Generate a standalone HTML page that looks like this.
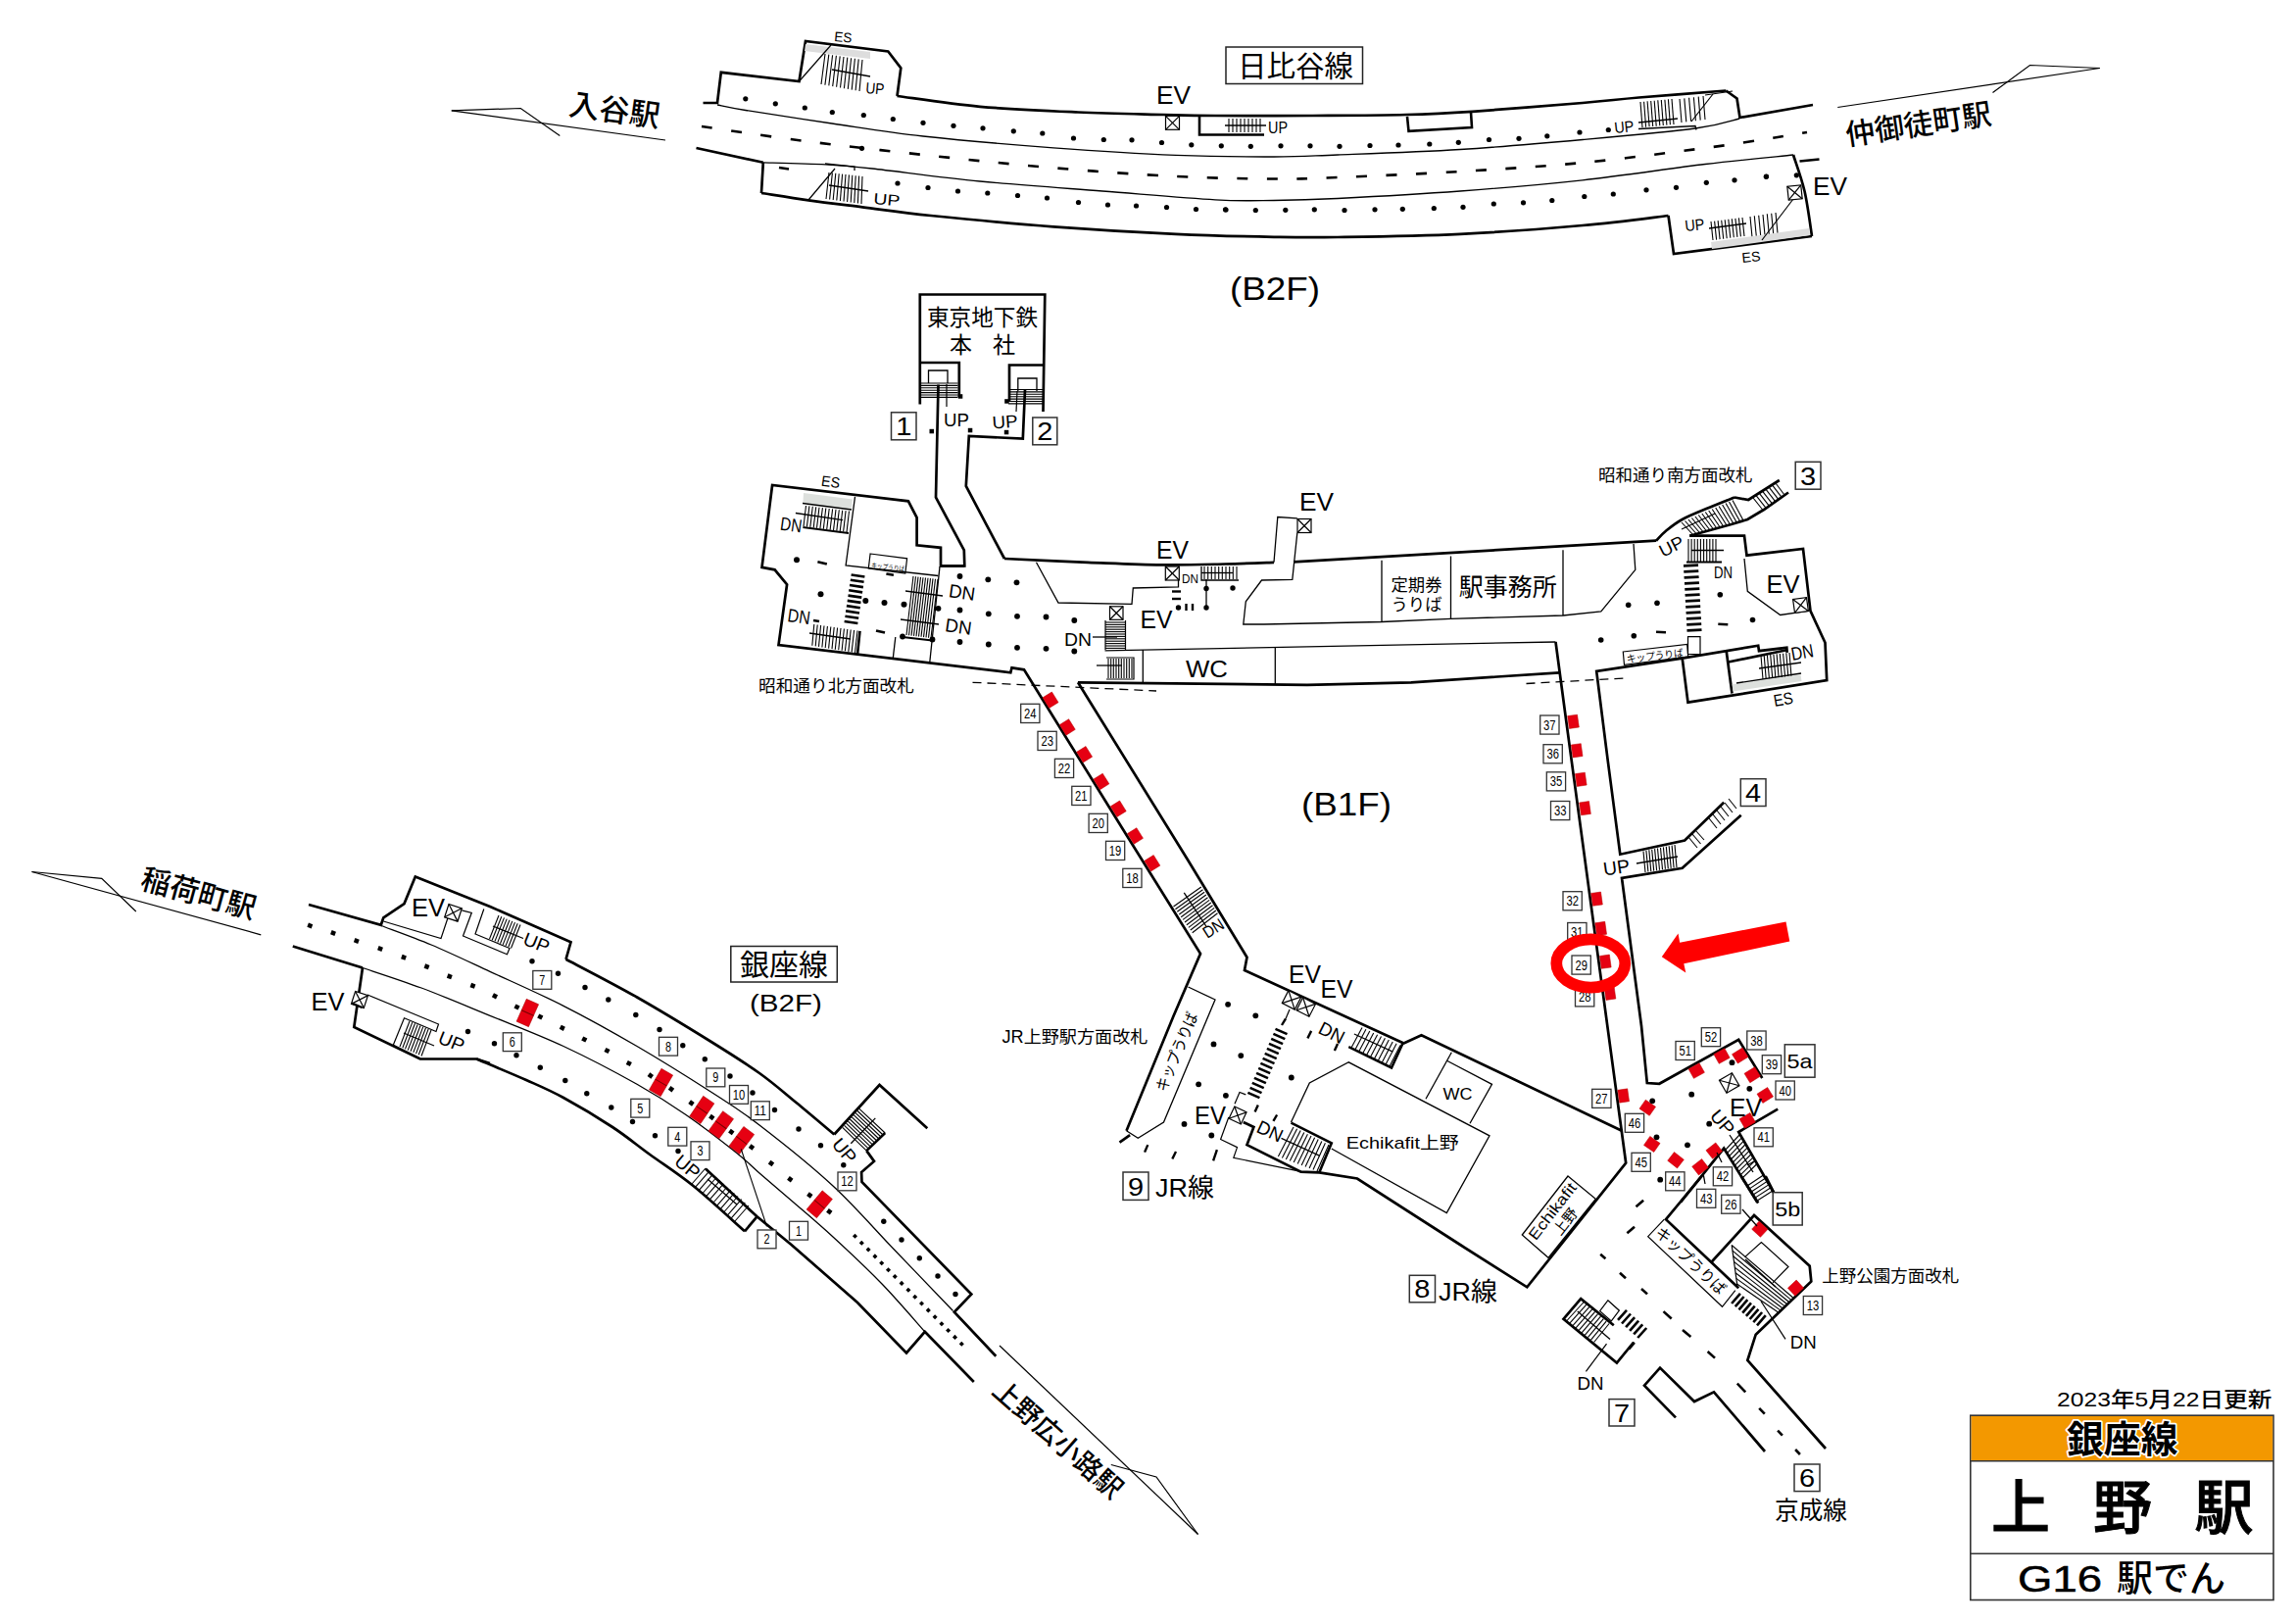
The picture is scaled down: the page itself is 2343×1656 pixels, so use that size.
<!DOCTYPE html>
<html lang="ja"><head><meta charset="utf-8"><title>上野駅 構内図</title>
<style>
html,body{margin:0;padding:0;background:#fff;}
body{width:2343px;height:1656px;overflow:hidden;}
svg{display:block;font-family:"Liberation Sans","Noto Sans CJK JP",sans-serif;fill:#000;}
</style></head><body>
<svg width="2343" height="1656" viewBox="0 0 2343 1656">
<g id="hibiya">
<polyline points="717.5,105.0 732.0,105.0 735.8,73.8 815.5,83.0 822.0,42.0 906.3,52.5 919.3,69.5 915.5,98.0" fill="none" stroke="#000" stroke-width="2.7" stroke-linejoin="miter" />
<path d="M915.5,98.0 C929.6,99.8 969.2,106.0 1000.0,108.8 C1030.8,111.5 1068.8,113.1 1100.0,114.5 C1131.2,115.9 1164.2,116.4 1187.5,117.0 C1210.8,117.6 1214.6,117.8 1240.0,118.0 C1265.4,118.2 1307.5,118.2 1340.0,118.0 C1372.5,117.8 1407.9,117.7 1435.0,117.0 C1462.1,116.3 1472.5,115.8 1502.5,113.8 C1532.5,111.8 1586.7,107.4 1615.0,105.0 C1643.3,102.6 1648.1,101.6 1672.5,99.5 C1696.9,97.4 1746.5,93.7 1761.3,92.5" fill="none" stroke="#000" stroke-width="2.7" />
<polyline points="1761.3,92.5 1772.5,100.5 1775.5,120.0 1850.0,107.0" fill="none" stroke="#000" stroke-width="2.7" stroke-linejoin="miter" />
<path d="M732.0,107.0 C736.8,107.9 741.3,109.3 760.8,112.5 C780.3,115.7 818.8,121.6 849.0,126.0 C879.2,130.4 904.3,134.9 942.0,139.0 C979.7,143.1 1032.0,147.6 1075.0,150.8 C1118.0,154.0 1162.5,156.8 1200.0,158.3 C1237.5,159.8 1272.5,160.1 1300.0,160.0 C1327.5,159.9 1333.3,159.2 1365.0,158.0 C1396.7,156.8 1448.3,155.1 1490.0,152.5 C1531.7,149.9 1575.0,146.1 1615.0,142.5 C1655.0,138.9 1703.3,134.6 1730.0,131.0 C1756.7,127.4 1767.5,122.7 1775.0,121.0" fill="none" stroke="#000" stroke-width="1.3" />
<path d="M716.0,129.0 C733.3,131.5 781.0,138.8 820.0,143.8 C859.0,148.8 907.5,154.2 950.0,158.8 C992.5,163.4 1033.3,167.8 1075.0,171.3 C1116.7,174.8 1162.5,178.1 1200.0,180.0 C1237.5,181.9 1272.5,182.3 1300.0,182.5 C1327.5,182.7 1333.3,182.2 1365.0,181.0 C1396.7,179.8 1448.3,177.5 1490.0,175.0 C1531.7,172.5 1573.3,170.0 1615.0,166.0 C1656.7,162.0 1706.8,155.3 1740.0,151.0 C1773.2,146.7 1796.7,142.7 1814.0,140.0 C1831.3,137.3 1839.0,135.8 1844.0,135.0" fill="none" stroke="#000" stroke-width="2.6" stroke-dasharray="11 19.5"/>
<polyline points="710.5,151.0 778.8,165.8" fill="none" stroke="#000" stroke-width="2.7" stroke-linejoin="miter" />
<path d="M778.8,165.8 C789.4,166.1 824.0,166.8 842.5,167.8 C861.0,168.8 863.8,169.1 890.0,172.0 C916.2,174.9 960.8,181.2 1000.0,185.0 C1039.2,188.8 1085.0,191.9 1125.0,195.0 C1165.0,198.1 1210.8,202.2 1240.0,203.8 C1269.2,205.4 1279.2,204.7 1300.0,204.5 C1320.8,204.3 1333.3,204.1 1365.0,202.5 C1396.7,200.9 1448.3,198.1 1490.0,195.0 C1531.7,191.9 1573.3,188.4 1615.0,183.8 C1656.7,179.2 1704.2,171.8 1740.0,167.5 C1775.8,163.2 1815.0,159.6 1830.0,158.0" fill="none" stroke="#000" stroke-width="1.3" />
<polyline points="778.8,165.8 777.0,197.0" fill="none" stroke="#000" stroke-width="2.7" stroke-linejoin="miter" />
<path d="M777.0,197.0 C785.0,198.2 807.8,201.9 825.0,204.3 C842.2,206.7 859.2,208.7 880.0,211.3 C900.8,213.9 917.5,216.7 950.0,220.0 C982.5,223.3 1033.3,228.2 1075.0,231.3 C1116.7,234.4 1162.5,237.1 1200.0,238.8 C1237.5,240.6 1272.5,241.3 1300.0,241.8 C1327.5,242.3 1333.3,242.5 1365.0,242.0 C1396.7,241.5 1448.3,240.8 1490.0,238.8 C1531.7,236.8 1579.6,233.1 1615.0,230.0 C1650.4,226.9 1687.9,221.7 1702.5,220.0" fill="none" stroke="#000" stroke-width="2.7" />
<polyline points="1702.5,220.0 1708.0,259.0 1849.0,241.0" fill="none" stroke="#000" stroke-width="2.7" stroke-linejoin="miter" />
<path d="M1849.0,241.0 C1847.8,233.3 1844.7,208.8 1841.5,195.0 C1838.3,181.2 1831.9,164.2 1830.0,158.0" fill="none" stroke="#000" stroke-width="2.7" />
<polyline points="1836.5,164.5 1856.5,162.5" fill="none" stroke="#000" stroke-width="2.7" stroke-linejoin="miter" />
<polyline points="1436.0,118.8 1437.5,133.8 1502.0,130.0 1501.0,114.5" fill="none" stroke="#000" stroke-width="2.6" stroke-linejoin="miter" />
<circle cx="760.8" cy="100.8" r="2.6"/>
<circle cx="791.3" cy="105.8" r="2.6"/>
<circle cx="821.3" cy="110.0" r="2.6"/>
<circle cx="849.3" cy="114.5" r="2.6"/>
<circle cx="881.3" cy="117.5" r="2.6"/>
<circle cx="911.3" cy="121.5" r="2.6"/>
<circle cx="942.0" cy="125.3" r="2.6"/>
<circle cx="973.0" cy="128.3" r="2.6"/>
<circle cx="1003.0" cy="130.8" r="2.6"/>
<circle cx="1034.3" cy="133.8" r="2.6"/>
<circle cx="1063.8" cy="136.0" r="2.6"/>
<circle cx="1095.5" cy="141.0" r="2.6"/>
<circle cx="1126.3" cy="142.5" r="2.6"/>
<circle cx="1155.0" cy="142.8" r="2.6"/>
<circle cx="1185.5" cy="145.5" r="2.6"/>
<circle cx="1215.8" cy="147.8" r="2.6"/>
<circle cx="1246.3" cy="148.8" r="2.6"/>
<circle cx="1276.3" cy="149.3" r="2.6"/>
<circle cx="1307.0" cy="148.8" r="2.6"/>
<circle cx="1337.0" cy="148.8" r="2.6"/>
<circle cx="1367.0" cy="149.3" r="2.6"/>
<circle cx="1398.0" cy="148.5" r="2.6"/>
<circle cx="1427.0" cy="148.0" r="2.6"/>
<circle cx="1458.8" cy="147.0" r="2.6"/>
<circle cx="1488.3" cy="145.3" r="2.6"/>
<circle cx="1519.5" cy="142.5" r="2.6"/>
<circle cx="1550.0" cy="141.3" r="2.6"/>
<circle cx="1578.8" cy="138.8" r="2.6"/>
<circle cx="1612.0" cy="135.0" r="2.6"/>
<circle cx="1641.3" cy="132.5" r="2.6"/>
<circle cx="879.5" cy="151.3" r="2.6"/>
<circle cx="916.0" cy="187.0" r="2.6"/>
<circle cx="947.0" cy="191.5" r="2.6"/>
<circle cx="977.5" cy="195.0" r="2.6"/>
<circle cx="1007.8" cy="197.0" r="2.6"/>
<circle cx="1038.5" cy="199.5" r="2.6"/>
<circle cx="1068.5" cy="202.0" r="2.6"/>
<circle cx="1100.5" cy="206.5" r="2.6"/>
<circle cx="1130.5" cy="209.0" r="2.6"/>
<circle cx="1159.5" cy="210.0" r="2.6"/>
<circle cx="1190.5" cy="211.5" r="2.6"/>
<circle cx="1220.5" cy="213.5" r="2.6"/>
<circle cx="1251.0" cy="214.0" r="2.6"/>
<circle cx="1250.5" cy="213.8" r="2.6"/>
<circle cx="1281.3" cy="214.5" r="2.6"/>
<circle cx="1311.8" cy="214.3" r="2.6"/>
<circle cx="1341.3" cy="213.8" r="2.6"/>
<circle cx="1372.0" cy="214.5" r="2.6"/>
<circle cx="1403.0" cy="213.8" r="2.6"/>
<circle cx="1431.3" cy="213.3" r="2.6"/>
<circle cx="1463.3" cy="212.5" r="2.6"/>
<circle cx="1493.0" cy="211.3" r="2.6"/>
<circle cx="1524.3" cy="208.0" r="2.6"/>
<circle cx="1554.5" cy="206.8" r="2.6"/>
<circle cx="1583.8" cy="204.5" r="2.6"/>
<circle cx="1616.8" cy="200.5" r="2.6"/>
<circle cx="1646.3" cy="198.0" r="2.6"/>
<circle cx="1680.0" cy="193.8" r="2.6"/>
<circle cx="1710.5" cy="191.3" r="2.6"/>
<circle cx="1741.3" cy="186.3" r="2.6"/>
<circle cx="1770.0" cy="183.8" r="2.6"/>
<circle cx="1802.5" cy="180.0" r="2.6"/>
<circle cx="1802.3" cy="180.3" r="2.6"/>
<circle cx="1833.3" cy="178.8" r="2.6"/>
<polygon points="822,45 888,53 888,60 821,52" fill="#ddd"/>
<line x1="842.0" y1="55.0" x2="838.0" y2="86.0" stroke="#000" stroke-width="1.1"/>
<line x1="845.8" y1="55.6" x2="841.9" y2="86.7" stroke="#000" stroke-width="1.1"/>
<line x1="849.6" y1="56.2" x2="845.8" y2="87.4" stroke="#000" stroke-width="1.1"/>
<line x1="853.4" y1="56.8" x2="849.7" y2="88.1" stroke="#000" stroke-width="1.1"/>
<line x1="857.2" y1="57.4" x2="853.6" y2="88.8" stroke="#000" stroke-width="1.1"/>
<line x1="861.0" y1="58.0" x2="857.5" y2="89.5" stroke="#000" stroke-width="1.1"/>
<line x1="864.8" y1="58.6" x2="861.4" y2="90.2" stroke="#000" stroke-width="1.1"/>
<line x1="868.6" y1="59.2" x2="865.3" y2="90.9" stroke="#000" stroke-width="1.1"/>
<line x1="872.4" y1="59.8" x2="869.2" y2="91.6" stroke="#000" stroke-width="1.1"/>
<line x1="876.2" y1="60.4" x2="873.1" y2="92.3" stroke="#000" stroke-width="1.1"/>
<line x1="880.0" y1="61.0" x2="877.0" y2="93.0" stroke="#000" stroke-width="1.1"/>
<line x1="815.5" y1="83.0" x2="848.0" y2="46.0" stroke="#000" stroke-width="1.2"/>
<line x1="849.0" y1="71.0" x2="888.0" y2="78.0" stroke="#000" stroke-width="1.3"/>
<text transform="translate(883.0 95.0) rotate(5) scale(0.855 1)" font-size="16" >UP</text>
<text transform="translate(851.0 42.0) rotate(5) scale(0.963 1)" font-size="14" >ES</text>
<line x1="846.0" y1="176.0" x2="843.0" y2="203.0" stroke="#000" stroke-width="1.1"/>
<line x1="849.4" y1="176.4" x2="846.6" y2="203.5" stroke="#000" stroke-width="1.1"/>
<line x1="852.8" y1="176.8" x2="850.2" y2="204.0" stroke="#000" stroke-width="1.1"/>
<line x1="856.2" y1="177.2" x2="853.8" y2="204.5" stroke="#000" stroke-width="1.1"/>
<line x1="859.6" y1="177.6" x2="857.4" y2="205.0" stroke="#000" stroke-width="1.1"/>
<line x1="863.0" y1="178.0" x2="861.0" y2="205.5" stroke="#000" stroke-width="1.1"/>
<line x1="866.4" y1="178.4" x2="864.6" y2="206.0" stroke="#000" stroke-width="1.1"/>
<line x1="869.8" y1="178.8" x2="868.2" y2="206.5" stroke="#000" stroke-width="1.1"/>
<line x1="873.2" y1="179.2" x2="871.8" y2="207.0" stroke="#000" stroke-width="1.1"/>
<line x1="876.6" y1="179.6" x2="875.4" y2="207.5" stroke="#000" stroke-width="1.1"/>
<line x1="880.0" y1="180.0" x2="879.0" y2="208.0" stroke="#000" stroke-width="1.1"/>
<line x1="825.0" y1="204.0" x2="852.0" y2="172.0" stroke="#000" stroke-width="1.2"/>
<line x1="846.0" y1="189.0" x2="886.0" y2="195.0" stroke="#000" stroke-width="1.3"/>
<polyline points="842.0,167.0 872.0,170.0 872.0,174.0" fill="none" stroke="#000" stroke-width="1.3" stroke-linejoin="miter" />
<text transform="translate(891.0 208.0) rotate(5) scale(1.214 1)" font-size="16" >UP</text>
<line x1="795.0" y1="171.0" x2="805.0" y2="172.5" stroke="#000" stroke-width="2.6"/>
<g transform="rotate(0 1196.5 125.3)" stroke="#000" stroke-width="1.2" fill="#fff"><rect x="1189.5" y="118.3" width="14" height="14"/><line x1="1189.5" y1="118.3" x2="1203.5" y2="132.3"/><line x1="1189.5" y1="132.3" x2="1203.5" y2="118.3"/></g>
<text transform="translate(1180.0 106.0) scale(1.009 1)" font-size="26" >EV</text>
<polyline points="1224.0,118.0 1224.0,137.5 1290.0,137.5" fill="none" stroke="#000" stroke-width="2.6" stroke-linejoin="miter" />
<line x1="1254.0" y1="121.0" x2="1254.0" y2="135.0" stroke="#000" stroke-width="1.1"/>
<line x1="1258.0" y1="121.0" x2="1258.0" y2="135.0" stroke="#000" stroke-width="1.1"/>
<line x1="1262.0" y1="121.0" x2="1262.0" y2="135.0" stroke="#000" stroke-width="1.1"/>
<line x1="1266.0" y1="121.0" x2="1266.0" y2="135.0" stroke="#000" stroke-width="1.1"/>
<line x1="1270.0" y1="121.0" x2="1270.0" y2="135.0" stroke="#000" stroke-width="1.1"/>
<line x1="1274.0" y1="121.0" x2="1274.0" y2="135.0" stroke="#000" stroke-width="1.1"/>
<line x1="1278.0" y1="121.0" x2="1278.0" y2="135.0" stroke="#000" stroke-width="1.1"/>
<line x1="1282.0" y1="121.0" x2="1282.0" y2="135.0" stroke="#000" stroke-width="1.1"/>
<line x1="1286.0" y1="121.0" x2="1286.0" y2="135.0" stroke="#000" stroke-width="1.1"/>
<line x1="1250.0" y1="128.0" x2="1292.0" y2="128.0" stroke="#000" stroke-width="1.3"/>
<text transform="translate(1294.0 136.0) scale(0.900 1)" font-size="16" >UP</text>
<line x1="1674.0" y1="104.0" x2="1676.0" y2="130.0" stroke="#000" stroke-width="1.1"/>
<line x1="1677.6" y1="103.7" x2="1679.6" y2="129.7" stroke="#000" stroke-width="1.1"/>
<line x1="1681.1" y1="103.3" x2="1683.1" y2="129.3" stroke="#000" stroke-width="1.1"/>
<line x1="1684.7" y1="103.0" x2="1686.7" y2="129.0" stroke="#000" stroke-width="1.1"/>
<line x1="1688.2" y1="102.7" x2="1690.2" y2="128.7" stroke="#000" stroke-width="1.1"/>
<line x1="1691.8" y1="102.3" x2="1693.8" y2="128.3" stroke="#000" stroke-width="1.1"/>
<line x1="1695.3" y1="102.0" x2="1697.3" y2="128.0" stroke="#000" stroke-width="1.1"/>
<line x1="1698.9" y1="101.7" x2="1700.9" y2="127.7" stroke="#000" stroke-width="1.1"/>
<line x1="1702.4" y1="101.3" x2="1704.4" y2="127.3" stroke="#000" stroke-width="1.1"/>
<line x1="1706.0" y1="101.0" x2="1708.0" y2="127.0" stroke="#000" stroke-width="1.1"/>
<line x1="1714.0" y1="101.0" x2="1716.0" y2="125.0" stroke="#000" stroke-width="1.1"/>
<line x1="1718.8" y1="100.4" x2="1720.8" y2="124.4" stroke="#000" stroke-width="1.1"/>
<line x1="1723.6" y1="99.8" x2="1725.6" y2="123.8" stroke="#000" stroke-width="1.1"/>
<line x1="1728.4" y1="99.2" x2="1730.4" y2="123.2" stroke="#000" stroke-width="1.1"/>
<line x1="1733.2" y1="98.6" x2="1735.2" y2="122.6" stroke="#000" stroke-width="1.1"/>
<line x1="1738.0" y1="98.0" x2="1740.0" y2="122.0" stroke="#000" stroke-width="1.1"/>
<line x1="1740.0" y1="97.0" x2="1768.0" y2="93.0" stroke="#000" stroke-width="1.2"/>
<line x1="1726.0" y1="124.0" x2="1748.0" y2="96.0" stroke="#000" stroke-width="1.2"/>
<polyline points="1672.0,131.5 1730.0,128.5 1731.0,132.5" fill="none" stroke="#000" stroke-width="1.3" stroke-linejoin="miter" />
<line x1="1672.0" y1="125.0" x2="1712.0" y2="121.0" stroke="#000" stroke-width="1.3"/>
<text transform="translate(1648.0 136.0) rotate(-6) scale(0.900 1)" font-size="16" >UP</text>
<line x1="1746.0" y1="226.0" x2="1748.0" y2="245.0" stroke="#000" stroke-width="1.1"/>
<line x1="1749.6" y1="225.6" x2="1751.6" y2="244.6" stroke="#000" stroke-width="1.1"/>
<line x1="1753.1" y1="225.1" x2="1755.1" y2="244.1" stroke="#000" stroke-width="1.1"/>
<line x1="1756.7" y1="224.7" x2="1758.7" y2="243.7" stroke="#000" stroke-width="1.1"/>
<line x1="1760.2" y1="224.2" x2="1762.2" y2="243.2" stroke="#000" stroke-width="1.1"/>
<line x1="1763.8" y1="223.8" x2="1765.8" y2="242.8" stroke="#000" stroke-width="1.1"/>
<line x1="1767.3" y1="223.3" x2="1769.3" y2="242.3" stroke="#000" stroke-width="1.1"/>
<line x1="1770.9" y1="222.9" x2="1772.9" y2="241.9" stroke="#000" stroke-width="1.1"/>
<line x1="1774.4" y1="222.4" x2="1776.4" y2="241.4" stroke="#000" stroke-width="1.1"/>
<line x1="1778.0" y1="222.0" x2="1780.0" y2="241.0" stroke="#000" stroke-width="1.1"/>
<line x1="1786.0" y1="221.0" x2="1788.0" y2="242.0" stroke="#000" stroke-width="1.1"/>
<line x1="1790.3" y1="220.3" x2="1792.3" y2="241.3" stroke="#000" stroke-width="1.1"/>
<line x1="1794.7" y1="219.7" x2="1796.7" y2="240.7" stroke="#000" stroke-width="1.1"/>
<line x1="1799.0" y1="219.0" x2="1801.0" y2="240.0" stroke="#000" stroke-width="1.1"/>
<line x1="1803.3" y1="218.3" x2="1805.3" y2="239.3" stroke="#000" stroke-width="1.1"/>
<line x1="1807.7" y1="217.7" x2="1809.7" y2="238.7" stroke="#000" stroke-width="1.1"/>
<line x1="1812.0" y1="217.0" x2="1814.0" y2="238.0" stroke="#000" stroke-width="1.1"/>
<polygon points="1746,247 1846,233 1847,240 1747,254" fill="#ddd"/>
<line x1="1744.0" y1="233.0" x2="1782.0" y2="228.0" stroke="#000" stroke-width="1.3"/>
<line x1="1798.0" y1="245.0" x2="1830.0" y2="203.0" stroke="#000" stroke-width="1.2"/>
<text transform="translate(1720.0 236.0) rotate(-6) scale(0.900 1)" font-size="16" >UP</text>
<g transform="rotate(-6 1831.5 196.5)" stroke="#000" stroke-width="1.2" fill="#fff"><rect x="1824.5" y="189.5" width="14" height="14"/><line x1="1824.5" y1="189.5" x2="1838.5" y2="203.5"/><line x1="1824.5" y1="203.5" x2="1838.5" y2="189.5"/></g>
<text transform="translate(1850.0 199.0) scale(1.009 1)" font-size="26" >EV</text>
<text transform="translate(1778.0 268.0) rotate(-6) scale(1.017 1)" font-size="14" >ES</text>
<rect x="1251" y="48" width="139.5" height="37.5" fill="#fff" stroke="#222" stroke-width="1.5"/>
<text transform="translate(1263.0 78.0)" font-size="29.5" >日比谷線</text>
<text transform="translate(1255.0 306.0) scale(1.115 1)" font-size="33" >(B2F)</text>
<polyline points="460.8,112.9 679.0,143.0" fill="none" stroke="#000" stroke-width="1.2" stroke-linejoin="miter" />
<polyline points="460.8,112.9 531.3,110.5 571.3,138.4" fill="none" stroke="#000" stroke-width="1.2" stroke-linejoin="miter" />
<text transform="translate(579.5 117.0) rotate(7.9)" font-size="31" font-weight="500" >入谷駅</text>
<polyline points="1875.3,109.5 2142.8,69.5" fill="none" stroke="#000" stroke-width="1.2" stroke-linejoin="miter" />
<polyline points="2142.8,69.5 2071.5,66.5 2033.5,94.5" fill="none" stroke="#000" stroke-width="1.2" stroke-linejoin="miter" />
<text transform="translate(1885.0 148.5) rotate(-8.5)" font-size="30" font-weight="500" >仲御徒町駅</text>
</g>
<g id="b1f_north">
<polyline points="938.8,412.5 938.8,300.5 1066.3,300.5 1064.5,420.0" fill="none" stroke="#000" stroke-width="2.7" stroke-linejoin="miter" />
<polyline points="938.8,370.0 978.8,370.0 978.8,405.0" fill="none" stroke="#000" stroke-width="2.7" stroke-linejoin="miter" />
<polyline points="1066.0,372.5 1030.0,372.5 1030.0,410.0" fill="none" stroke="#000" stroke-width="2.7" stroke-linejoin="miter" />
<text transform="translate(946.0 332.0) scale(0.983 1)" font-size="23" >東京地下鉄</text>
<text transform="translate(969.0 360.0)" font-size="23" >本</text>
<text transform="translate(1013.0 360.0)" font-size="23" >社</text>
<polyline points="947.5,391.0 947.5,378.0 967.0,378.0 967.0,391.0" fill="none" stroke="#000" stroke-width="1.3" stroke-linejoin="miter" />
<line x1="940.0" y1="391.0" x2="977.5" y2="391.0" stroke="#000" stroke-width="1.1"/>
<line x1="940.0" y1="393.4" x2="977.5" y2="393.4" stroke="#000" stroke-width="1.1"/>
<line x1="940.0" y1="395.8" x2="977.5" y2="395.8" stroke="#000" stroke-width="1.1"/>
<line x1="940.0" y1="398.2" x2="977.5" y2="398.2" stroke="#000" stroke-width="1.1"/>
<line x1="940.0" y1="400.6" x2="977.5" y2="400.6" stroke="#000" stroke-width="1.1"/>
<line x1="940.0" y1="403.0" x2="977.5" y2="403.0" stroke="#000" stroke-width="1.1"/>
<line x1="940.0" y1="405.4" x2="977.5" y2="405.4" stroke="#000" stroke-width="1.1"/>
<polyline points="1038.8,399.0 1038.8,386.0 1058.0,386.0 1058.0,399.0" fill="none" stroke="#000" stroke-width="1.3" stroke-linejoin="miter" />
<line x1="1029.0" y1="397.5" x2="1064.5" y2="397.5" stroke="#000" stroke-width="1.1"/>
<line x1="1029.0" y1="399.9" x2="1064.5" y2="399.9" stroke="#000" stroke-width="1.1"/>
<line x1="1029.0" y1="402.3" x2="1064.5" y2="402.3" stroke="#000" stroke-width="1.1"/>
<line x1="1029.0" y1="404.7" x2="1064.5" y2="404.7" stroke="#000" stroke-width="1.1"/>
<line x1="1029.0" y1="407.1" x2="1064.5" y2="407.1" stroke="#000" stroke-width="1.1"/>
<line x1="1029.0" y1="409.5" x2="1064.5" y2="409.5" stroke="#000" stroke-width="1.1"/>
<line x1="1029.0" y1="411.9" x2="1064.5" y2="411.9" stroke="#000" stroke-width="1.1"/>
<line x1="966.0" y1="392.0" x2="966.0" y2="415.0" stroke="#000" stroke-width="1.2"/>
<line x1="1038.0" y1="399.0" x2="1037.0" y2="420.0" stroke="#000" stroke-width="1.2"/>
<rect x="948.5" y="437.8" width="4.5" height="4.5" transform="rotate(0 950.8 440.0)"/>
<rect x="987.8" y="436.8" width="4.5" height="4.5" transform="rotate(0 990.0 439.0)"/>
<rect x="1024.8" y="438.8" width="4.5" height="4.5" transform="rotate(0 1027.0 441.0)"/>
<rect x="977.8" y="402.2" width="4.5" height="4.5" transform="rotate(0 980.0 404.5)"/>
<rect x="1025.2" y="407.2" width="4.5" height="4.5" transform="rotate(0 1027.5 409.5)"/>
<text transform="translate(963.0 434.5) scale(1.039 1)" font-size="18" >UP</text>
<text transform="translate(1013.0 437.5) rotate(-4) scale(1.039 1)" font-size="18" >UP</text>
<rect x="909.5" y="420.8" width="25.5" height="28.0" fill="#fff" stroke="#333" stroke-width="1.5"/>
<text transform="translate(914.2 444.2) scale(1.114 1)" font-size="26" >1</text>
<rect x="1053.8" y="426.0" width="25.0" height="27.8" fill="#fff" stroke="#333" stroke-width="1.5"/>
<text transform="translate(1058.2 449.3) scale(1.114 1)" font-size="26" >2</text>
<polyline points="957.5,392.5 955.0,507.5 983.8,561.3 984.3,577.5 960.0,577.5" fill="none" stroke="#000" stroke-width="2.7" stroke-linejoin="miter" />
<polyline points="1046.0,397.5 1043.8,447.5 988.8,445.0 985.8,496.0 1025.0,570.0" fill="none" stroke="#000" stroke-width="2.7" stroke-linejoin="miter" />
<path d="M1025.0,570.0 C1039.2,570.6 1083.3,572.8 1110.0,573.8 C1136.7,574.8 1161.7,576.0 1185.0,576.3 C1208.3,576.6 1230.8,575.9 1250.0,575.5 C1269.2,575.1 1291.7,574.1 1300.0,573.8" fill="none" stroke="#000" stroke-width="2.7" />
<polyline points="1300.0,573.8 1303.8,527.5 1323.8,528.8" fill="none" stroke="#000" stroke-width="1.3" stroke-linejoin="miter" />
<g transform="rotate(0 1331.0 536.5)" stroke="#000" stroke-width="1.2" fill="#fff"><rect x="1324.0" y="529.5" width="14" height="14"/><line x1="1324.0" y1="529.5" x2="1338.0" y2="543.5"/><line x1="1324.0" y1="543.5" x2="1338.0" y2="529.5"/></g>
<text transform="translate(1326.0 521.0) scale(1.009 1)" font-size="26" >EV</text>
<polyline points="1323.8,543.8 1318.8,591.3 1287.5,592.0 1271.3,613.8 1268.8,637.0 1290.0,637.0 1410.0,634.5 1480.5,631.3 1595.0,628.0 1633.8,623.8 1668.8,581.3 1667.0,555.0" fill="none" stroke="#000" stroke-width="1.3" stroke-linejoin="miter" />
<polyline points="1320.0,573.3 1690.0,551.7" fill="none" stroke="#000" stroke-width="2.7" stroke-linejoin="miter" />
<polyline points="984.3,577.5 960.0,577.5 960.0,558.8 935.6,556.3 935.6,528.1 926.9,511.3 788.1,495.0 777.5,578.8 790.6,581.3 803.1,596.3 794.5,658.0 1031.3,686.3 1032.5,681.3 1045.0,683.3 1148.3,850.0 1225.0,973.0 1197.5,1036.7 1149.5,1153.8" fill="none" stroke="#000" stroke-width="2.7" stroke-linejoin="miter" />
<polyline points="872.5,506.9 863.1,576.9 957.5,587.5" fill="none" stroke="#000" stroke-width="1.3" stroke-linejoin="miter" />
<polyline points="959.0,578.0 948.8,675.5" fill="none" stroke="#000" stroke-width="1.3" stroke-linejoin="miter" />
<polygon points="888.1,565.0 925.6,569.8 923.8,585.0 886.3,580.0" fill="none" stroke="#000" stroke-width="1.2" stroke-linejoin="miter" fill="#fff"/>
<text transform="translate(889.0 579.3) rotate(7.2) scale(0.756 1)" font-size="7.5" >キップうりば</text>
<line x1="904.4" y1="585.5" x2="911.9" y2="586.8" stroke="#000" stroke-width="2.6"/>
<polygon points="820,503.1 870,509.4 868.8,520 819.4,513.1" fill="#dde0dd"/>
<line x1="822.5" y1="516.0" x2="820.0" y2="537.0" stroke="#000" stroke-width="1.1"/>
<line x1="825.9" y1="516.4" x2="823.4" y2="537.5" stroke="#000" stroke-width="1.1"/>
<line x1="829.3" y1="516.8" x2="826.8" y2="537.9" stroke="#000" stroke-width="1.1"/>
<line x1="832.7" y1="517.3" x2="830.2" y2="538.4" stroke="#000" stroke-width="1.1"/>
<line x1="836.0" y1="517.7" x2="833.5" y2="538.8" stroke="#000" stroke-width="1.1"/>
<line x1="839.4" y1="518.1" x2="836.9" y2="539.3" stroke="#000" stroke-width="1.1"/>
<line x1="842.8" y1="518.5" x2="840.3" y2="539.8" stroke="#000" stroke-width="1.1"/>
<line x1="846.2" y1="519.0" x2="843.7" y2="540.2" stroke="#000" stroke-width="1.1"/>
<line x1="849.6" y1="519.4" x2="847.1" y2="540.7" stroke="#000" stroke-width="1.1"/>
<line x1="853.0" y1="519.8" x2="850.5" y2="541.2" stroke="#000" stroke-width="1.1"/>
<line x1="856.3" y1="520.2" x2="853.8" y2="541.6" stroke="#000" stroke-width="1.1"/>
<line x1="859.7" y1="520.7" x2="857.2" y2="542.1" stroke="#000" stroke-width="1.1"/>
<line x1="863.1" y1="521.1" x2="860.6" y2="542.5" stroke="#000" stroke-width="1.1"/>
<line x1="866.5" y1="521.5" x2="864.0" y2="543.0" stroke="#000" stroke-width="1.1"/>
<polyline points="819.0,513.5 869.0,520.0" fill="none" stroke="#000" stroke-width="1.6" stroke-linejoin="miter" />
<polyline points="819.4,538.0 866.0,544.0" fill="none" stroke="#000" stroke-width="2.2" stroke-linejoin="miter" />
<line x1="811.9" y1="523.5" x2="860.0" y2="530.6" stroke="#000" stroke-width="1.3"/>
<text transform="translate(795.5 540.5) rotate(8) scale(0.801 1)" font-size="19" >DN</text>
<text transform="translate(837.5 495.5) rotate(8) scale(0.949 1)" font-size="15" >ES</text>
<line x1="830.8" y1="637.0" x2="828.8" y2="658.8" stroke="#000" stroke-width="1.1"/>
<line x1="834.2" y1="637.5" x2="832.2" y2="659.4" stroke="#000" stroke-width="1.1"/>
<line x1="837.6" y1="638.0" x2="835.5" y2="659.9" stroke="#000" stroke-width="1.1"/>
<line x1="841.0" y1="638.5" x2="838.9" y2="660.5" stroke="#000" stroke-width="1.1"/>
<line x1="844.4" y1="639.0" x2="842.2" y2="661.0" stroke="#000" stroke-width="1.1"/>
<line x1="847.8" y1="639.5" x2="845.6" y2="661.6" stroke="#000" stroke-width="1.1"/>
<line x1="851.2" y1="640.0" x2="849.0" y2="662.1" stroke="#000" stroke-width="1.1"/>
<line x1="854.6" y1="640.5" x2="852.3" y2="662.7" stroke="#000" stroke-width="1.1"/>
<line x1="858.0" y1="641.0" x2="855.7" y2="663.2" stroke="#000" stroke-width="1.1"/>
<line x1="861.4" y1="641.5" x2="859.1" y2="663.8" stroke="#000" stroke-width="1.1"/>
<line x1="864.8" y1="642.0" x2="862.4" y2="664.3" stroke="#000" stroke-width="1.1"/>
<line x1="868.2" y1="642.5" x2="865.8" y2="664.9" stroke="#000" stroke-width="1.1"/>
<line x1="871.6" y1="643.0" x2="869.1" y2="665.4" stroke="#000" stroke-width="1.1"/>
<line x1="875.0" y1="643.5" x2="872.5" y2="666.0" stroke="#000" stroke-width="1.1"/>
<polyline points="877.5,643.8 875.0,668.0" fill="none" stroke="#000" stroke-width="2.6" stroke-linejoin="miter" />
<line x1="826.0" y1="646.0" x2="868.0" y2="652.0" stroke="#000" stroke-width="1.3"/>
<line x1="830.0" y1="633.0" x2="836.0" y2="634.0" stroke="#000" stroke-width="2.6"/>
<text transform="translate(803.0 634.0) rotate(8) scale(0.838 1)" font-size="19" >DN</text>
<line x1="882.4" y1="588.5" x2="868.6" y2="586.5" stroke="#000" stroke-width="2.6"/>
<line x1="881.6" y1="593.8" x2="867.8" y2="591.8" stroke="#000" stroke-width="2.6"/>
<line x1="880.9" y1="599.1" x2="867.0" y2="597.0" stroke="#000" stroke-width="2.6"/>
<line x1="880.1" y1="604.4" x2="866.2" y2="602.3" stroke="#000" stroke-width="2.6"/>
<line x1="879.3" y1="609.6" x2="865.5" y2="607.6" stroke="#000" stroke-width="2.6"/>
<line x1="878.5" y1="614.9" x2="864.7" y2="612.9" stroke="#000" stroke-width="2.6"/>
<line x1="877.8" y1="620.2" x2="863.9" y2="618.1" stroke="#000" stroke-width="2.6"/>
<line x1="877.0" y1="625.5" x2="863.1" y2="623.4" stroke="#000" stroke-width="2.6"/>
<line x1="876.2" y1="630.7" x2="862.4" y2="628.7" stroke="#000" stroke-width="2.6"/>
<line x1="875.4" y1="636.0" x2="861.6" y2="634.0" stroke="#000" stroke-width="2.6"/>
<line x1="932.0" y1="588.0" x2="925.0" y2="648.0" stroke="#000" stroke-width="1.1"/>
<line x1="934.5" y1="588.3" x2="927.5" y2="648.3" stroke="#000" stroke-width="1.1"/>
<line x1="937.0" y1="588.6" x2="930.0" y2="648.6" stroke="#000" stroke-width="1.1"/>
<line x1="939.5" y1="588.9" x2="932.5" y2="648.9" stroke="#000" stroke-width="1.1"/>
<line x1="942.0" y1="589.2" x2="935.0" y2="649.2" stroke="#000" stroke-width="1.1"/>
<line x1="944.5" y1="589.5" x2="937.5" y2="649.5" stroke="#000" stroke-width="1.1"/>
<line x1="947.0" y1="589.8" x2="940.0" y2="649.8" stroke="#000" stroke-width="1.1"/>
<line x1="949.5" y1="590.1" x2="942.5" y2="650.1" stroke="#000" stroke-width="1.1"/>
<line x1="952.0" y1="590.4" x2="945.0" y2="650.4" stroke="#000" stroke-width="1.1"/>
<line x1="954.5" y1="590.7" x2="947.5" y2="650.7" stroke="#000" stroke-width="1.1"/>
<line x1="957.0" y1="591.0" x2="950.0" y2="651.0" stroke="#000" stroke-width="1.1"/>
<line x1="924.0" y1="603.0" x2="962.0" y2="608.0" stroke="#000" stroke-width="1.3"/>
<line x1="919.0" y1="632.0" x2="958.0" y2="637.0" stroke="#000" stroke-width="1.3"/>
<polyline points="921.0,650.0 951.3,653.5" fill="none" stroke="#000" stroke-width="2" stroke-linejoin="miter" />
<text transform="translate(967.5 609.0) rotate(8) scale(0.983 1)" font-size="19" >DN</text>
<text transform="translate(963.8 644.0) rotate(8) scale(0.983 1)" font-size="19" >DN</text>
<polyline points="913.8,650.0 911.3,671.3" fill="none" stroke="#000" stroke-width="1.3" stroke-linejoin="miter" />
<circle cx="813.0" cy="571.3" r="3"/>
<circle cx="837.5" cy="606.3" r="3"/>
<circle cx="883.3" cy="613.0" r="3"/>
<circle cx="902.5" cy="615.0" r="3"/>
<circle cx="922.5" cy="616.8" r="3"/>
<line x1="834.4" y1="573.3" x2="843.8" y2="575.6" stroke="#000" stroke-width="2.6"/>
<line x1="894.0" y1="643.5" x2="903.0" y2="645.5" stroke="#000" stroke-width="2.6"/>
<circle cx="979.5" cy="588.0" r="2.9"/>
<circle cx="1008.3" cy="591.3" r="2.9"/>
<circle cx="1037.5" cy="594.3" r="2.9"/>
<circle cx="957.5" cy="620.8" r="2.9"/>
<circle cx="979.5" cy="622.5" r="2.9"/>
<circle cx="1008.8" cy="626.3" r="2.9"/>
<circle cx="1038.0" cy="628.8" r="2.9"/>
<circle cx="1067.5" cy="629.5" r="2.9"/>
<circle cx="1096.3" cy="633.0" r="2.9"/>
<circle cx="979.5" cy="655.0" r="2.9"/>
<circle cx="1008.8" cy="657.5" r="2.9"/>
<circle cx="1038.0" cy="660.8" r="2.9"/>
<circle cx="1067.5" cy="661.8" r="2.9"/>
<circle cx="1096.3" cy="664.5" r="2.9"/>
<circle cx="921.0" cy="649.5" r="2.9"/>
<circle cx="951.5" cy="652.5" r="2.9"/>
<text transform="translate(774.0 705.5) scale(1.004 1)" font-size="17.6" >昭和通り北方面改札</text>
<polyline points="1057.5,573.8 1080.0,615.0 1155.0,616.3 1156.3,600.0 1202.5,598.8 1202.5,592.0" fill="none" stroke="#000" stroke-width="1.3" stroke-linejoin="miter" />
<g transform="rotate(0 1196.3 585.0)" stroke="#000" stroke-width="1.2" fill="#fff"><rect x="1189.3" y="578.0" width="14" height="14"/><line x1="1189.3" y1="578.0" x2="1203.3" y2="592.0"/><line x1="1189.3" y1="592.0" x2="1203.3" y2="578.0"/></g>
<text transform="translate(1180.0 570.0) scale(0.951 1)" font-size="26" >EV</text>
<line x1="1229.0" y1="578.0" x2="1229.0" y2="591.0" stroke="#000" stroke-width="1.1"/>
<line x1="1232.7" y1="578.0" x2="1232.7" y2="591.0" stroke="#000" stroke-width="1.1"/>
<line x1="1236.3" y1="578.0" x2="1236.3" y2="591.0" stroke="#000" stroke-width="1.1"/>
<line x1="1240.0" y1="578.0" x2="1240.0" y2="591.0" stroke="#000" stroke-width="1.1"/>
<line x1="1243.7" y1="578.0" x2="1243.7" y2="591.0" stroke="#000" stroke-width="1.1"/>
<line x1="1247.3" y1="578.0" x2="1247.3" y2="591.0" stroke="#000" stroke-width="1.1"/>
<line x1="1251.0" y1="578.0" x2="1251.0" y2="591.0" stroke="#000" stroke-width="1.1"/>
<line x1="1254.7" y1="578.0" x2="1254.7" y2="591.0" stroke="#000" stroke-width="1.1"/>
<line x1="1258.3" y1="578.0" x2="1258.3" y2="591.0" stroke="#000" stroke-width="1.1"/>
<line x1="1262.0" y1="578.0" x2="1262.0" y2="591.0" stroke="#000" stroke-width="1.1"/>
<line x1="1226.0" y1="584.5" x2="1258.0" y2="584.5" stroke="#000" stroke-width="1.3"/>
<polyline points="1226.0,578.0 1226.0,592.0 1264.0,592.0" fill="none" stroke="#000" stroke-width="1.3" stroke-linejoin="miter" />
<text transform="translate(1206.0 594.5) scale(0.905 1)" font-size="13" >DN</text>
<line x1="1196.0" y1="603.5" x2="1205.0" y2="603.5" stroke="#000" stroke-width="2.4"/>
<line x1="1196.0" y1="611.0" x2="1205.0" y2="611.0" stroke="#000" stroke-width="2.4"/>
<line x1="1210.5" y1="616.0" x2="1210.5" y2="623.0" stroke="#000" stroke-width="2.4"/>
<line x1="1217.0" y1="616.0" x2="1217.0" y2="623.0" stroke="#000" stroke-width="2.4"/>
<circle cx="1202.5" cy="620.0" r="2.7"/>
<circle cx="1231.0" cy="600.5" r="2.7"/>
<circle cx="1231.0" cy="620.0" r="2.7"/>
<circle cx="1258.0" cy="600.0" r="2.7"/>
<line x1="1231.0" y1="591.0" x2="1231.0" y2="620.0" stroke="#000" stroke-width="1.3"/>
<g transform="rotate(0 1139.3 625.5)" stroke="#000" stroke-width="1.2" fill="#fff"><rect x="1132.5" y="618.8" width="13.5" height="13.5"/><line x1="1132.5" y1="618.8" x2="1146.0" y2="632.2"/><line x1="1132.5" y1="632.2" x2="1146.0" y2="618.8"/></g>
<text transform="translate(1163.5 641.0) scale(0.951 1)" font-size="26" >EV</text>
<line x1="1128.0" y1="635.0" x2="1148.5" y2="635.0" stroke="#000" stroke-width="1.1"/>
<line x1="1128.0" y1="637.4" x2="1148.5" y2="637.4" stroke="#000" stroke-width="1.1"/>
<line x1="1128.0" y1="639.8" x2="1148.5" y2="639.8" stroke="#000" stroke-width="1.1"/>
<line x1="1128.0" y1="642.2" x2="1148.5" y2="642.2" stroke="#000" stroke-width="1.1"/>
<line x1="1128.0" y1="644.6" x2="1148.5" y2="644.6" stroke="#000" stroke-width="1.1"/>
<line x1="1128.0" y1="647.0" x2="1148.5" y2="647.0" stroke="#000" stroke-width="1.1"/>
<line x1="1128.0" y1="649.4" x2="1148.5" y2="649.4" stroke="#000" stroke-width="1.1"/>
<line x1="1128.0" y1="651.8" x2="1148.5" y2="651.8" stroke="#000" stroke-width="1.1"/>
<line x1="1128.0" y1="654.2" x2="1148.5" y2="654.2" stroke="#000" stroke-width="1.1"/>
<line x1="1128.0" y1="656.6" x2="1148.5" y2="656.6" stroke="#000" stroke-width="1.1"/>
<line x1="1128.0" y1="659.0" x2="1148.5" y2="659.0" stroke="#000" stroke-width="1.1"/>
<line x1="1128.0" y1="661.4" x2="1148.5" y2="661.4" stroke="#000" stroke-width="1.1"/>
<polyline points="1128.0,633.0 1128.0,663.0" fill="none" stroke="#000" stroke-width="1.2" stroke-linejoin="miter" />
<polyline points="1148.5,633.0 1148.5,663.0" fill="none" stroke="#000" stroke-width="1.2" stroke-linejoin="miter" />
<line x1="1115.0" y1="650.0" x2="1140.0" y2="650.0" stroke="#000" stroke-width="1.3"/>
<text transform="translate(1086.0 658.5) scale(1.020 1)" font-size="19" >DN</text>
<line x1="1131.0" y1="672.0" x2="1131.0" y2="692.0" stroke="#000" stroke-width="1.1"/>
<line x1="1133.7" y1="672.0" x2="1133.7" y2="692.0" stroke="#000" stroke-width="1.1"/>
<line x1="1136.3" y1="672.0" x2="1136.3" y2="692.0" stroke="#000" stroke-width="1.1"/>
<line x1="1139.0" y1="672.0" x2="1139.0" y2="692.0" stroke="#000" stroke-width="1.1"/>
<line x1="1141.7" y1="672.0" x2="1141.7" y2="692.0" stroke="#000" stroke-width="1.1"/>
<line x1="1144.3" y1="672.0" x2="1144.3" y2="692.0" stroke="#000" stroke-width="1.1"/>
<line x1="1147.0" y1="672.0" x2="1147.0" y2="692.0" stroke="#000" stroke-width="1.1"/>
<line x1="1149.7" y1="672.0" x2="1149.7" y2="692.0" stroke="#000" stroke-width="1.1"/>
<line x1="1152.3" y1="672.0" x2="1152.3" y2="692.0" stroke="#000" stroke-width="1.1"/>
<line x1="1155.0" y1="672.0" x2="1155.0" y2="692.0" stroke="#000" stroke-width="1.1"/>
<polyline points="1129.0,671.0 1157.0,671.0 1157.0,693.0 1129.0,693.0" fill="none" stroke="#000" stroke-width="1.2" stroke-linejoin="miter" />
<line x1="1119.0" y1="679.0" x2="1145.0" y2="679.0" stroke="#000" stroke-width="1.3"/>
<polyline points="1127.5,663.8 1587.5,655.0" fill="none" stroke="#000" stroke-width="1.3" stroke-linejoin="miter" />
<polyline points="1166.3,663.0 1166.3,697.0" fill="none" stroke="#000" stroke-width="1.3" stroke-linejoin="miter" />
<polyline points="1301.3,661.0 1301.3,698.0" fill="none" stroke="#000" stroke-width="1.3" stroke-linejoin="miter" />
<polyline points="1100.0,696.3 1334.0,698.8 1440.0,696.3 1591.3,686.3" fill="none" stroke="#000" stroke-width="2.7" stroke-linejoin="miter" />
<text transform="translate(1210.0 691.0) scale(1.075 1)" font-size="24" >WC</text>
<polyline points="1410.0,571.8 1410.0,634.5" fill="none" stroke="#000" stroke-width="1.3" stroke-linejoin="miter" />
<polyline points="1480.5,567.5 1480.5,631.3" fill="none" stroke="#000" stroke-width="1.3" stroke-linejoin="miter" />
<polyline points="1595.0,561.3 1595.0,628.0" fill="none" stroke="#000" stroke-width="1.3" stroke-linejoin="miter" />
<text transform="translate(1419.5 603.0) scale(0.990 1)" font-size="17.5" >定期券</text>
<text transform="translate(1419.5 622.5) scale(0.990 1)" font-size="17.5" >うりば</text>
<text transform="translate(1488.8 608.0)" font-size="25" >駅事務所</text>
<path d="M992.5,696.3 L1180,705" stroke="#000" stroke-width="1.3" stroke-dasharray="9 6" fill="none"/>
<path d="M1557.5,697.5 L1657.5,692" stroke="#000" stroke-width="1.3" stroke-dasharray="9 6" fill="none"/>
</g>
<g id="b1f_south">
<polyline points="1100.0,696.3 1211.7,876.7 1272.5,976.7 1270.0,990.0 1432.5,1064.5 1450.5,1056.3 1655.0,1153.8" fill="none" stroke="#000" stroke-width="2.7" stroke-linejoin="miter" />
<rect x="1066.5" y="708.0" width="11" height="12.5" fill="#e60012" stroke="#b00" stroke-width="0.5" transform="rotate(-32 1072.0 714.2)"/>
<rect x="1041.7" y="718.3" width="19.2" height="19.2" fill="#fff" stroke="#333" stroke-width="1.3"/>
<text transform="translate(1045.1 732.9) scale(0.802 1)" font-size="14" >24</text>
<rect x="1083.8" y="735.7" width="11" height="12.5" fill="#e60012" stroke="#b00" stroke-width="0.5" transform="rotate(-32 1089.3 742.0)"/>
<rect x="1059.0" y="746.3" width="19.2" height="19.2" fill="#fff" stroke="#333" stroke-width="1.3"/>
<text transform="translate(1062.4 760.9) scale(0.802 1)" font-size="14" >23</text>
<rect x="1101.1" y="763.5" width="11" height="12.5" fill="#e60012" stroke="#b00" stroke-width="0.5" transform="rotate(-32 1106.6 769.7)"/>
<rect x="1076.4" y="774.3" width="19.2" height="19.2" fill="#fff" stroke="#333" stroke-width="1.3"/>
<text transform="translate(1079.8 788.9) scale(0.802 1)" font-size="14" >22</text>
<rect x="1118.4" y="791.2" width="11" height="12.5" fill="#e60012" stroke="#b00" stroke-width="0.5" transform="rotate(-32 1123.9 797.5)"/>
<rect x="1093.8" y="802.3" width="19.2" height="19.2" fill="#fff" stroke="#333" stroke-width="1.3"/>
<text transform="translate(1097.1 816.9) scale(0.802 1)" font-size="14" >21</text>
<rect x="1135.7" y="819.0" width="11" height="12.5" fill="#e60012" stroke="#b00" stroke-width="0.5" transform="rotate(-32 1141.2 825.2)"/>
<rect x="1111.1" y="830.3" width="19.2" height="19.2" fill="#fff" stroke="#333" stroke-width="1.3"/>
<text transform="translate(1114.5 844.9) scale(0.802 1)" font-size="14" >20</text>
<rect x="1153.0" y="846.7" width="11" height="12.5" fill="#e60012" stroke="#b00" stroke-width="0.5" transform="rotate(-32 1158.5 853.0)"/>
<rect x="1128.5" y="858.3" width="19.2" height="19.2" fill="#fff" stroke="#333" stroke-width="1.3"/>
<text transform="translate(1131.8 872.9) scale(0.802 1)" font-size="14" >19</text>
<rect x="1170.3" y="874.5" width="11" height="12.5" fill="#e60012" stroke="#b00" stroke-width="0.5" transform="rotate(-32 1175.8 880.7)"/>
<rect x="1145.8" y="886.3" width="19.2" height="19.2" fill="#fff" stroke="#333" stroke-width="1.3"/>
<text transform="translate(1149.2 900.9) scale(0.802 1)" font-size="14" >18</text>
<line x1="1197.5" y1="925.0" x2="1225.8" y2="905.0" stroke="#000" stroke-width="1.1"/>
<line x1="1199.4" y1="927.7" x2="1227.5" y2="907.7" stroke="#000" stroke-width="1.1"/>
<line x1="1201.3" y1="930.3" x2="1229.1" y2="910.3" stroke="#000" stroke-width="1.1"/>
<line x1="1203.3" y1="933.0" x2="1230.8" y2="913.0" stroke="#000" stroke-width="1.1"/>
<line x1="1205.2" y1="935.7" x2="1232.5" y2="915.7" stroke="#000" stroke-width="1.1"/>
<line x1="1207.1" y1="938.4" x2="1234.2" y2="918.4" stroke="#000" stroke-width="1.1"/>
<line x1="1209.0" y1="941.0" x2="1235.8" y2="921.0" stroke="#000" stroke-width="1.1"/>
<line x1="1210.9" y1="943.7" x2="1237.5" y2="923.7" stroke="#000" stroke-width="1.1"/>
<line x1="1212.9" y1="946.4" x2="1239.2" y2="926.4" stroke="#000" stroke-width="1.1"/>
<line x1="1214.8" y1="949.0" x2="1240.8" y2="929.0" stroke="#000" stroke-width="1.1"/>
<line x1="1216.7" y1="951.7" x2="1242.5" y2="931.7" stroke="#000" stroke-width="1.1"/>
<line x1="1208.3" y1="910.8" x2="1230.8" y2="945.0" stroke="#000" stroke-width="1.3"/>
<text transform="translate(1232.0 958.0) rotate(-32) scale(0.896 1)" font-size="17" >DN</text>
<polyline points="1587.5,655.0 1597.5,730.0 1659.2,1186.7 1558.3,1313.3 1490.0,1270.0 1385.0,1202.5 1346.3,1196.3 1327.5,1195.6 1272.5,1168.1 1279.4,1150.0 1268.8,1145.0" fill="none" stroke="#000" stroke-width="2.7" stroke-linejoin="miter" />
<polyline points="1716.7,671.7 1629.2,685.0 1640.8,776.7 1653.3,871.7 1719.2,857.5 1759.2,818.7" fill="none" stroke="#000" stroke-width="2.7" stroke-linejoin="miter" />
<polyline points="1776.7,831.7 1716.7,885.8 1655.0,895.8 1675.0,1046.7 1680.8,1105.0 1693.3,1105.8 1774.2,1060.8 1798.3,1100.0" fill="none" stroke="#000" stroke-width="2.7" stroke-linejoin="miter" />
<path d="M1690.0,551.7 C1691.7,550.0 1695.5,545.3 1700.0,541.7 C1704.5,538.1 1709.5,533.9 1716.7,530.0 C1723.9,526.1 1734.4,522.0 1743.3,518.3 C1752.2,514.5 1765.5,509.3 1770.0,507.5" fill="none" stroke="#000" stroke-width="2.7" />
<polyline points="1770.0,507.5 1784.2,510.0 1815.8,490.0" fill="none" stroke="#000" stroke-width="2.7" stroke-linejoin="miter" />
<polyline points="1724.2,546.7 1766.7,535.0 1783.3,530.0 1800.0,520.0 1825.0,502.5" fill="none" stroke="#000" stroke-width="2.7" stroke-linejoin="miter" />
<polyline points="1724.2,546.7 1780.0,546.7 1782.5,566.7 1840.0,560.0 1847.5,623.3 1862.5,655.8 1864.2,694.2 1722.5,716.7 1716.7,671.7 1794.2,658.7 1795.0,664.2 1823.3,660.8 1823.7,665.8" fill="none" stroke="#000" stroke-width="2.7" stroke-linejoin="miter" />
<polyline points="1761.7,664.2 1767.5,707.5" fill="none" stroke="#000" stroke-width="2.7" stroke-linejoin="miter" />
<polyline points="1762.5,675.8 1823.3,663.3" fill="none" stroke="#000" stroke-width="2.7" stroke-linejoin="miter" />
<polyline points="1780.0,570.0 1783.3,603.3 1816.7,627.5 1845.0,623.3" fill="none" stroke="#000" stroke-width="1.3" stroke-linejoin="miter" />
<g transform="rotate(-8 1837.5 617.5)" stroke="#000" stroke-width="1.2" fill="#fff"><rect x="1830.5" y="610.5" width="14" height="14"/><line x1="1830.5" y1="610.5" x2="1844.5" y2="624.5"/><line x1="1830.5" y1="624.5" x2="1844.5" y2="610.5"/></g>
<text transform="translate(1802.5 605.0) scale(0.980 1)" font-size="26" >EV</text>
<rect x="1832.2" y="471.3" width="25.8" height="27.9" fill="#fff" stroke="#333" stroke-width="1.5"/>
<text transform="translate(1837.0 494.6) scale(1.114 1)" font-size="26" >3</text>
<text transform="translate(1631.0 491.0)" font-size="17.5" >昭和通り南方面改札</text>
<line x1="1716.0" y1="533.0" x2="1728.0" y2="546.0" stroke="#000" stroke-width="1.1"/>
<line x1="1719.5" y1="531.5" x2="1731.4" y2="545.0" stroke="#000" stroke-width="1.1"/>
<line x1="1722.9" y1="530.0" x2="1734.8" y2="544.0" stroke="#000" stroke-width="1.1"/>
<line x1="1726.4" y1="528.5" x2="1738.2" y2="543.0" stroke="#000" stroke-width="1.1"/>
<line x1="1729.9" y1="527.0" x2="1741.6" y2="542.0" stroke="#000" stroke-width="1.1"/>
<line x1="1733.3" y1="525.5" x2="1745.0" y2="541.0" stroke="#000" stroke-width="1.1"/>
<line x1="1736.8" y1="524.0" x2="1748.4" y2="540.0" stroke="#000" stroke-width="1.1"/>
<line x1="1740.3" y1="522.5" x2="1751.8" y2="539.0" stroke="#000" stroke-width="1.1"/>
<line x1="1743.7" y1="521.0" x2="1755.2" y2="538.0" stroke="#000" stroke-width="1.1"/>
<line x1="1747.2" y1="519.5" x2="1758.6" y2="537.0" stroke="#000" stroke-width="1.1"/>
<line x1="1750.7" y1="518.0" x2="1762.0" y2="536.0" stroke="#000" stroke-width="1.1"/>
<line x1="1754.1" y1="516.5" x2="1765.4" y2="535.0" stroke="#000" stroke-width="1.1"/>
<line x1="1757.6" y1="515.0" x2="1768.8" y2="534.0" stroke="#000" stroke-width="1.1"/>
<line x1="1761.1" y1="513.5" x2="1772.2" y2="533.0" stroke="#000" stroke-width="1.1"/>
<line x1="1764.5" y1="512.0" x2="1775.6" y2="532.0" stroke="#000" stroke-width="1.1"/>
<line x1="1768.0" y1="510.5" x2="1779.0" y2="531.0" stroke="#000" stroke-width="1.1"/>
<line x1="1789.0" y1="508.0" x2="1799.0" y2="520.5" stroke="#000" stroke-width="1.1"/>
<line x1="1792.3" y1="505.9" x2="1802.1" y2="518.3" stroke="#000" stroke-width="1.1"/>
<line x1="1795.6" y1="503.7" x2="1805.3" y2="516.1" stroke="#000" stroke-width="1.1"/>
<line x1="1798.9" y1="501.6" x2="1808.4" y2="513.9" stroke="#000" stroke-width="1.1"/>
<line x1="1802.1" y1="499.4" x2="1811.6" y2="511.6" stroke="#000" stroke-width="1.1"/>
<line x1="1805.4" y1="497.3" x2="1814.7" y2="509.4" stroke="#000" stroke-width="1.1"/>
<line x1="1808.7" y1="495.1" x2="1817.9" y2="507.2" stroke="#000" stroke-width="1.1"/>
<line x1="1812.0" y1="493.0" x2="1821.0" y2="505.0" stroke="#000" stroke-width="1.1"/>
<line x1="1716.0" y1="540.0" x2="1750.0" y2="524.0" stroke="#000" stroke-width="1.3"/>
<line x1="1723.0" y1="550.0" x2="1723.0" y2="573.0" stroke="#000" stroke-width="1.1"/>
<line x1="1726.1" y1="550.0" x2="1726.1" y2="573.0" stroke="#000" stroke-width="1.1"/>
<line x1="1729.2" y1="550.0" x2="1729.2" y2="573.0" stroke="#000" stroke-width="1.1"/>
<line x1="1732.3" y1="550.0" x2="1732.3" y2="573.0" stroke="#000" stroke-width="1.1"/>
<line x1="1735.4" y1="550.0" x2="1735.4" y2="573.0" stroke="#000" stroke-width="1.1"/>
<line x1="1738.6" y1="550.0" x2="1738.6" y2="573.0" stroke="#000" stroke-width="1.1"/>
<line x1="1741.7" y1="550.0" x2="1741.7" y2="573.0" stroke="#000" stroke-width="1.1"/>
<line x1="1744.8" y1="550.0" x2="1744.8" y2="573.0" stroke="#000" stroke-width="1.1"/>
<line x1="1747.9" y1="550.0" x2="1747.9" y2="573.0" stroke="#000" stroke-width="1.1"/>
<line x1="1751.0" y1="550.0" x2="1751.0" y2="573.0" stroke="#000" stroke-width="1.1"/>
<line x1="1721.0" y1="573.5" x2="1757.0" y2="573.5" stroke="#000" stroke-width="2.2"/>
<line x1="1726.0" y1="561.5" x2="1759.0" y2="561.5" stroke="#000" stroke-width="1.3"/>
<text transform="translate(1697.0 569.0) rotate(-27) scale(1.039 1)" font-size="18" >UP</text>
<text transform="translate(1749.0 590.0) scale(0.822 1)" font-size="16" >DN</text>
<line x1="1733.0" y1="576.6" x2="1718.0" y2="577.4" stroke="#000" stroke-width="2.6"/>
<line x1="1733.3" y1="582.6" x2="1718.3" y2="583.4" stroke="#000" stroke-width="2.6"/>
<line x1="1733.6" y1="588.6" x2="1718.6" y2="589.4" stroke="#000" stroke-width="2.6"/>
<line x1="1733.9" y1="594.6" x2="1719.0" y2="595.4" stroke="#000" stroke-width="2.6"/>
<line x1="1734.3" y1="600.6" x2="1719.3" y2="601.4" stroke="#000" stroke-width="2.6"/>
<line x1="1734.6" y1="606.6" x2="1719.6" y2="607.4" stroke="#000" stroke-width="2.6"/>
<line x1="1734.9" y1="612.6" x2="1719.9" y2="613.4" stroke="#000" stroke-width="2.6"/>
<line x1="1735.2" y1="618.6" x2="1720.2" y2="619.4" stroke="#000" stroke-width="2.6"/>
<line x1="1735.5" y1="624.6" x2="1720.6" y2="625.4" stroke="#000" stroke-width="2.6"/>
<line x1="1735.9" y1="630.6" x2="1720.9" y2="631.4" stroke="#000" stroke-width="2.6"/>
<line x1="1736.2" y1="636.6" x2="1721.2" y2="637.4" stroke="#000" stroke-width="2.6"/>
<line x1="1736.5" y1="642.6" x2="1721.5" y2="643.4" stroke="#000" stroke-width="2.6"/>
<circle cx="1661.7" cy="617.2" r="2.8"/>
<circle cx="1691.0" cy="615.3" r="2.8"/>
<circle cx="1755.3" cy="606.7" r="2.8"/>
<circle cx="1788.5" cy="632.5" r="2.8"/>
<circle cx="1633.7" cy="653.0" r="2.8"/>
<circle cx="1667.3" cy="648.7" r="2.8"/>
<line x1="1690.0" y1="644.7" x2="1700.0" y2="645.3" stroke="#000" stroke-width="2.6"/>
<line x1="1753.3" y1="636.8" x2="1763.3" y2="637.2" stroke="#000" stroke-width="2.6"/>
<polygon points="1656.3,665.0 1721.7,657.5 1722.7,670.0 1657.5,678.3" fill="none" stroke="#000" stroke-width="1.2" stroke-linejoin="miter" fill="#fff"/>
<text transform="translate(1660.5 676.3) rotate(-6.5) scale(0.921 1)" font-size="10.5" >キップうりば</text>
<polygon points="1722.5,649.7 1735.0,649.7 1735.0,667.5 1722.5,667.5" fill="none" stroke="#000" stroke-width="1.2" stroke-linejoin="miter" fill="#fff"/>
<line x1="1797.0" y1="669.0" x2="1799.0" y2="693.0" stroke="#000" stroke-width="1.1"/>
<line x1="1800.2" y1="668.7" x2="1802.2" y2="692.7" stroke="#000" stroke-width="1.1"/>
<line x1="1803.4" y1="668.3" x2="1805.4" y2="692.3" stroke="#000" stroke-width="1.1"/>
<line x1="1806.7" y1="668.0" x2="1808.7" y2="692.0" stroke="#000" stroke-width="1.1"/>
<line x1="1809.9" y1="667.7" x2="1811.9" y2="691.7" stroke="#000" stroke-width="1.1"/>
<line x1="1813.1" y1="667.3" x2="1815.1" y2="691.3" stroke="#000" stroke-width="1.1"/>
<line x1="1816.3" y1="667.0" x2="1818.3" y2="691.0" stroke="#000" stroke-width="1.1"/>
<line x1="1819.6" y1="666.7" x2="1821.6" y2="690.7" stroke="#000" stroke-width="1.1"/>
<line x1="1822.8" y1="666.3" x2="1824.8" y2="690.3" stroke="#000" stroke-width="1.1"/>
<line x1="1826.0" y1="666.0" x2="1828.0" y2="690.0" stroke="#000" stroke-width="1.1"/>
<polygon points="1767.5,698.3 1837.5,688.3 1838.5,695 1768.5,705.5" fill="#dde0dd"/>
<line x1="1772.0" y1="697.0" x2="1838.0" y2="687.0" stroke="#000" stroke-width="1.4"/>
<line x1="1795.0" y1="682.0" x2="1838.0" y2="676.0" stroke="#000" stroke-width="1.3"/>
<text transform="translate(1829.0 674.0) rotate(-10) scale(0.838 1)" font-size="19" >DN</text>
<text transform="translate(1811.0 721.0) rotate(-10) scale(0.882 1)" font-size="17" >ES</text>
<rect x="1600.5" y="729.8" width="10" height="13" fill="#e60012" stroke="#b00" stroke-width="0.5" transform="rotate(-8 1605.5 736.3)"/>
<rect x="1604.2" y="759.3" width="10" height="13" fill="#e60012" stroke="#b00" stroke-width="0.5" transform="rotate(-8 1609.2 765.8)"/>
<rect x="1608.3" y="788.8" width="10" height="13" fill="#e60012" stroke="#b00" stroke-width="0.5" transform="rotate(-8 1613.3 795.3)"/>
<rect x="1612.5" y="818.2" width="10" height="13" fill="#e60012" stroke="#b00" stroke-width="0.5" transform="rotate(-8 1617.5 824.7)"/>
<rect x="1624.5" y="910.7" width="10" height="13" fill="#e60012" stroke="#b00" stroke-width="0.5" transform="rotate(-8 1629.5 917.2)"/>
<rect x="1628.7" y="941.0" width="10" height="13" fill="#e60012" stroke="#b00" stroke-width="0.5" transform="rotate(-8 1633.7 947.5)"/>
<rect x="1633.3" y="974.7" width="10" height="13" fill="#e60012" stroke="#b00" stroke-width="0.5" transform="rotate(-8 1638.3 981.2)"/>
<rect x="1638.0" y="1006.8" width="10" height="13" fill="#e60012" stroke="#b00" stroke-width="0.5" transform="rotate(-8 1643.0 1013.3)"/>
<rect x="1651.7" y="1111.5" width="10" height="13" fill="#e60012" stroke="#b00" stroke-width="0.5" transform="rotate(-8 1656.7 1118.0)"/>
<rect x="1571.7" y="730.0" width="19.3" height="19.1" fill="#fff" stroke="#333" stroke-width="1.3"/>
<text transform="translate(1575.1 744.6) scale(0.802 1)" font-size="14" >37</text>
<rect x="1575.0" y="759.7" width="19.3" height="19.1" fill="#fff" stroke="#333" stroke-width="1.3"/>
<text transform="translate(1578.4 774.3) scale(0.802 1)" font-size="14" >36</text>
<rect x="1578.3" y="787.8" width="19.3" height="19.1" fill="#fff" stroke="#333" stroke-width="1.3"/>
<text transform="translate(1581.7 802.4) scale(0.802 1)" font-size="14" >35</text>
<rect x="1582.5" y="817.5" width="19.3" height="19.1" fill="#fff" stroke="#333" stroke-width="1.3"/>
<text transform="translate(1585.9 832.1) scale(0.802 1)" font-size="14" >33</text>
<rect x="1595.0" y="909.7" width="19.3" height="19.1" fill="#fff" stroke="#333" stroke-width="1.3"/>
<text transform="translate(1598.4 924.3) scale(0.802 1)" font-size="14" >32</text>
<rect x="1599.7" y="941.5" width="19.3" height="19.1" fill="#fff" stroke="#333" stroke-width="1.3"/>
<text transform="translate(1603.1 956.1) scale(0.802 1)" font-size="14" >31</text>
<rect x="1604.0" y="975.0" width="19.3" height="19.1" fill="#fff" stroke="#333" stroke-width="1.3"/>
<text transform="translate(1607.4 989.6) scale(0.802 1)" font-size="14" >29</text>
<rect x="1607.5" y="1007.8" width="19.3" height="19.1" fill="#fff" stroke="#333" stroke-width="1.3"/>
<text transform="translate(1610.9 1022.4) scale(0.802 1)" font-size="14" >28</text>
<rect x="1624.7" y="1111.3" width="19.3" height="19.1" fill="#fff" stroke="#333" stroke-width="1.3"/>
<text transform="translate(1628.1 1125.9) scale(0.802 1)" font-size="14" >27</text>
<rect x="1776.3" y="794.7" width="25.7" height="27.8" fill="#fff" stroke="#333" stroke-width="1.5"/>
<text transform="translate(1781.1 818.0) scale(1.114 1)" font-size="26" >4</text>
<line x1="1677.0" y1="868.5" x2="1679.0" y2="890.0" stroke="#000" stroke-width="1.1"/>
<line x1="1679.9" y1="867.9" x2="1681.9" y2="889.5" stroke="#000" stroke-width="1.1"/>
<line x1="1682.8" y1="867.3" x2="1684.8" y2="889.1" stroke="#000" stroke-width="1.1"/>
<line x1="1685.7" y1="866.7" x2="1687.7" y2="888.6" stroke="#000" stroke-width="1.1"/>
<line x1="1688.6" y1="866.1" x2="1690.6" y2="888.2" stroke="#000" stroke-width="1.1"/>
<line x1="1691.5" y1="865.5" x2="1693.5" y2="887.7" stroke="#000" stroke-width="1.1"/>
<line x1="1694.5" y1="865.0" x2="1696.5" y2="887.3" stroke="#000" stroke-width="1.1"/>
<line x1="1697.4" y1="864.4" x2="1699.4" y2="886.8" stroke="#000" stroke-width="1.1"/>
<line x1="1700.3" y1="863.8" x2="1702.3" y2="886.4" stroke="#000" stroke-width="1.1"/>
<line x1="1703.2" y1="863.2" x2="1705.2" y2="885.9" stroke="#000" stroke-width="1.1"/>
<line x1="1706.1" y1="862.6" x2="1708.1" y2="885.5" stroke="#000" stroke-width="1.1"/>
<line x1="1709.0" y1="862.0" x2="1711.0" y2="885.0" stroke="#000" stroke-width="1.1"/>
<line x1="1670.0" y1="881.0" x2="1712.0" y2="874.0" stroke="#000" stroke-width="1.3"/>
<text transform="translate(1637.0 893.5) rotate(-8) scale(1.022 1)" font-size="19" >UP</text>
<line x1="1723.0" y1="854.0" x2="1732.0" y2="865.0" stroke="#000" stroke-width="1.1"/>
<line x1="1726.5" y1="850.5" x2="1735.5" y2="861.0" stroke="#000" stroke-width="1.1"/>
<line x1="1730.0" y1="847.0" x2="1739.0" y2="857.0" stroke="#000" stroke-width="1.1"/>
<line x1="1744.0" y1="835.0" x2="1752.0" y2="845.0" stroke="#000" stroke-width="1.1"/>
<line x1="1748.0" y1="831.0" x2="1756.0" y2="841.0" stroke="#000" stroke-width="1.1"/>
<line x1="1752.0" y1="827.0" x2="1760.0" y2="837.0" stroke="#000" stroke-width="1.1"/>
<line x1="1756.0" y1="823.0" x2="1764.0" y2="833.0" stroke="#000" stroke-width="1.1"/>
<line x1="1760.0" y1="819.0" x2="1768.0" y2="829.0" stroke="#000" stroke-width="1.1"/>
<line x1="1764.0" y1="815.0" x2="1772.0" y2="825.0" stroke="#000" stroke-width="1.1"/>
<ellipse cx="1623.3" cy="983" rx="35" ry="24.6" fill="none" stroke="#ff0000" stroke-width="11.7"/>
<polygon points="1695.8,976.2 1712.5,952.5 1714.2,961.7 1822.5,940.5 1826.3,960.5 1718.3,983.3 1720.3,992.5" fill="#ff0000"/>
<text transform="translate(1328.0 832.0) scale(1.099 1)" font-size="33.5" >(B1F)</text>
<polyline points="1149.5,1153.8 1161.3,1161.3 1187.5,1145.0 1240.0,1020.0 1212.5,1007.0" fill="none" stroke="#000" stroke-width="1.3" stroke-linejoin="miter" />
<polyline points="1153.1,1158.1 1142.5,1165.6" fill="none" stroke="#000" stroke-width="2.7" stroke-linejoin="miter" />
<text transform="translate(1189.5 1115.0) rotate(-67.2) scale(0.896 1)" font-size="16" >キップうりば</text>
<line x1="1168.1" y1="1175.6" x2="1171.3" y2="1168.1" stroke="#000" stroke-width="2.4"/>
<line x1="1196.3" y1="1182.5" x2="1200.0" y2="1175.0" stroke="#000" stroke-width="2.4"/>
<line x1="1238.1" y1="1184.4" x2="1241.9" y2="1173.1" stroke="#000" stroke-width="2.4"/>
<line x1="1280.6" y1="1134.4" x2="1283.8" y2="1127.5" stroke="#000" stroke-width="2.4"/>
<line x1="1299.4" y1="1143.8" x2="1303.1" y2="1137.5" stroke="#000" stroke-width="2.4"/>
<line x1="1334.4" y1="1059.4" x2="1338.1" y2="1051.9" stroke="#000" stroke-width="2.4"/>
<line x1="1361.9" y1="1071.9" x2="1365.0" y2="1065.0" stroke="#000" stroke-width="2.4"/>
<line x1="1308.0" y1="1046.0" x2="1312.0" y2="1039.4" stroke="#000" stroke-width="2.4"/>
<line x1="1312.0" y1="1039.4" x2="1316.0" y2="1030.0" stroke="#000" stroke-width="1.2"/>
<circle cx="1253.1" cy="1024.8" r="2.9"/>
<circle cx="1281.3" cy="1036.3" r="2.9"/>
<circle cx="1238.5" cy="1065.4" r="2.9"/>
<circle cx="1266.3" cy="1077.1" r="2.9"/>
<circle cx="1223.1" cy="1106.3" r="2.9"/>
<circle cx="1250.9" cy="1117.8" r="2.9"/>
<circle cx="1208.5" cy="1146.9" r="2.9"/>
<circle cx="1236.3" cy="1158.5" r="2.9"/>
<circle cx="1317.8" cy="1099.5" r="2.9"/>
<line x1="1313.5" y1="1055.1" x2="1301.5" y2="1049.9" stroke="#000" stroke-width="2.6"/>
<line x1="1311.3" y1="1060.1" x2="1299.4" y2="1054.9" stroke="#000" stroke-width="2.6"/>
<line x1="1309.1" y1="1065.1" x2="1297.2" y2="1059.9" stroke="#000" stroke-width="2.6"/>
<line x1="1307.0" y1="1070.1" x2="1295.0" y2="1064.9" stroke="#000" stroke-width="2.6"/>
<line x1="1304.8" y1="1075.1" x2="1292.9" y2="1069.9" stroke="#000" stroke-width="2.6"/>
<line x1="1302.7" y1="1080.1" x2="1290.7" y2="1074.9" stroke="#000" stroke-width="2.6"/>
<line x1="1300.5" y1="1085.1" x2="1288.6" y2="1079.9" stroke="#000" stroke-width="2.6"/>
<line x1="1298.3" y1="1090.1" x2="1286.4" y2="1084.9" stroke="#000" stroke-width="2.6"/>
<line x1="1296.2" y1="1095.1" x2="1284.2" y2="1089.9" stroke="#000" stroke-width="2.6"/>
<line x1="1294.0" y1="1100.1" x2="1282.1" y2="1094.9" stroke="#000" stroke-width="2.6"/>
<line x1="1291.9" y1="1105.1" x2="1279.9" y2="1099.9" stroke="#000" stroke-width="2.6"/>
<line x1="1289.7" y1="1110.1" x2="1277.8" y2="1104.9" stroke="#000" stroke-width="2.6"/>
<line x1="1287.5" y1="1115.1" x2="1275.6" y2="1109.9" stroke="#000" stroke-width="2.6"/>
<line x1="1285.4" y1="1120.1" x2="1273.4" y2="1114.9" stroke="#000" stroke-width="2.6"/>
<g transform="rotate(27 1318.1 1020.4)" stroke="#000" stroke-width="1.2" fill="#fff"><rect x="1310.8" y="1013.1" width="14.5" height="14.5"/><line x1="1310.8" y1="1013.1" x2="1325.3" y2="1027.7"/><line x1="1310.8" y1="1027.7" x2="1325.3" y2="1013.1"/></g>
<g transform="rotate(27 1332.8 1027.6)" stroke="#000" stroke-width="1.2" fill="#fff"><rect x="1325.5" y="1020.3" width="14.5" height="14.5"/><line x1="1325.5" y1="1020.3" x2="1340.0" y2="1034.8"/><line x1="1325.5" y1="1034.8" x2="1340.0" y2="1020.3"/></g>
<text transform="translate(1315.0 1002.5) scale(0.951 1)" font-size="26" >EV</text>
<text transform="translate(1347.5 1017.5) scale(0.951 1)" font-size="26" >EV</text>
<g transform="rotate(25 1263.1 1138.1)" stroke="#000" stroke-width="1.2" fill="#fff"><rect x="1256.3" y="1131.3" width="13.5" height="13.5"/><line x1="1256.3" y1="1131.3" x2="1269.8" y2="1144.8"/><line x1="1256.3" y1="1144.8" x2="1269.8" y2="1131.3"/></g>
<text transform="translate(1219.0 1147.0) scale(0.923 1)" font-size="26" >EV</text>
<polyline points="1271.3,1116.9 1265.0,1114.4 1260.0,1126.3" fill="none" stroke="#000" stroke-width="1.2" stroke-linejoin="miter" />
<polyline points="1253.8,1140.0 1245.6,1162.5 1262.5,1170.6 1258.8,1181.3 1328.8,1195.6" fill="none" stroke="#000" stroke-width="1.2" stroke-linejoin="miter" />
<polyline points="1376.3,1068.1 1420.0,1089.4 1431.3,1065.0" fill="none" stroke="#000" stroke-width="2.6" stroke-linejoin="miter" />
<line x1="1390.0" y1="1048.5" x2="1379.0" y2="1069.0" stroke="#000" stroke-width="1.1"/>
<line x1="1393.9" y1="1050.3" x2="1382.9" y2="1070.9" stroke="#000" stroke-width="1.1"/>
<line x1="1397.8" y1="1052.1" x2="1386.8" y2="1072.8" stroke="#000" stroke-width="1.1"/>
<line x1="1401.7" y1="1053.9" x2="1390.7" y2="1074.7" stroke="#000" stroke-width="1.1"/>
<line x1="1405.6" y1="1055.7" x2="1394.6" y2="1076.6" stroke="#000" stroke-width="1.1"/>
<line x1="1409.5" y1="1057.5" x2="1398.5" y2="1078.5" stroke="#000" stroke-width="1.1"/>
<line x1="1413.4" y1="1059.3" x2="1402.4" y2="1080.4" stroke="#000" stroke-width="1.1"/>
<line x1="1417.3" y1="1061.1" x2="1406.3" y2="1082.3" stroke="#000" stroke-width="1.1"/>
<line x1="1421.2" y1="1062.9" x2="1410.2" y2="1084.2" stroke="#000" stroke-width="1.1"/>
<line x1="1425.1" y1="1064.7" x2="1414.1" y2="1086.1" stroke="#000" stroke-width="1.1"/>
<line x1="1429.0" y1="1066.5" x2="1418.0" y2="1088.0" stroke="#000" stroke-width="1.1"/>
<line x1="1381.9" y1="1055.0" x2="1421.3" y2="1073.1" stroke="#000" stroke-width="1.3"/>
<text transform="translate(1344.0 1053.5) rotate(27) scale(0.983 1)" font-size="19" >DN</text>
<polyline points="1317.5,1145.6 1358.8,1166.3 1346.3,1196.3" fill="none" stroke="#000" stroke-width="2.6" stroke-linejoin="miter" />
<line x1="1320.0" y1="1150.0" x2="1304.4" y2="1180.0" stroke="#000" stroke-width="1.1"/>
<line x1="1323.6" y1="1151.8" x2="1308.4" y2="1181.5" stroke="#000" stroke-width="1.1"/>
<line x1="1327.2" y1="1153.6" x2="1312.3" y2="1183.0" stroke="#000" stroke-width="1.1"/>
<line x1="1330.8" y1="1155.4" x2="1316.3" y2="1184.5" stroke="#000" stroke-width="1.1"/>
<line x1="1334.4" y1="1157.2" x2="1320.2" y2="1186.0" stroke="#000" stroke-width="1.1"/>
<line x1="1338.0" y1="1159.0" x2="1324.2" y2="1187.5" stroke="#000" stroke-width="1.1"/>
<line x1="1341.6" y1="1160.8" x2="1328.2" y2="1189.0" stroke="#000" stroke-width="1.1"/>
<line x1="1345.2" y1="1162.6" x2="1332.1" y2="1190.5" stroke="#000" stroke-width="1.1"/>
<line x1="1348.8" y1="1164.4" x2="1336.1" y2="1192.0" stroke="#000" stroke-width="1.1"/>
<line x1="1352.4" y1="1166.2" x2="1340.0" y2="1193.5" stroke="#000" stroke-width="1.1"/>
<line x1="1356.0" y1="1168.0" x2="1344.0" y2="1195.0" stroke="#000" stroke-width="1.1"/>
<line x1="1307.5" y1="1161.3" x2="1346.9" y2="1179.4" stroke="#000" stroke-width="1.3"/>
<text transform="translate(1281.0 1154.5) rotate(25) scale(0.983 1)" font-size="19" >DN</text>
<polyline points="1317.5,1145.0 1336.3,1105.0 1376.3,1083.8 1520.0,1158.8 1476.3,1237.5 1358.8,1172.0" fill="none" stroke="#000" stroke-width="1.3" stroke-linejoin="miter" />
<polyline points="1481.3,1073.8 1455.0,1121.3" fill="none" stroke="#000" stroke-width="1.3" stroke-linejoin="miter" />
<polyline points="1477.0,1082.5 1522.5,1106.3 1500.0,1146.3" fill="none" stroke="#000" stroke-width="1.3" stroke-linejoin="miter" />
<text transform="translate(1472.5 1121.5) scale(1.059 1)" font-size="17" >WC</text>
<text transform="translate(1373.8 1172.0) scale(1.170 1)" font-size="17" >Echikafit上野</text>
<polygon points="1600.0,1200.0 1628.3,1223.3 1580.0,1283.3 1553.3,1260.0" fill="none" stroke="#000" stroke-width="1.3" stroke-linejoin="miter" />
<text transform="translate(1567.2 1266.4) rotate(-52.1) scale(1.178 1)" font-size="15.5" >Echikafit</text>
<text transform="translate(1592.6 1261.5) rotate(-52.1)" font-size="15" >上野</text>
<rect x="1146.0" y="1196.0" width="26.0" height="28.4" fill="#fff" stroke="#333" stroke-width="1.5"/>
<text transform="translate(1150.9 1219.6) scale(1.114 1)" font-size="26" >9</text>
<text transform="translate(1179.0 1221.0) scale(1.038 1)" font-size="26" >JR線</text>
<text transform="translate(1022.5 1063.5) scale(1.036 1)" font-size="17.5" >JR上野駅方面改札</text>
</g>
<g id="b1f_exits">
<polyline points="1814.2,1131.7 1774.2,1155.0 1810.0,1216.7" fill="none" stroke="#000" stroke-width="2.7" stroke-linejoin="miter" />
<polyline points="1715.0,1226.7 1759.2,1171.7 1793.3,1226.7" fill="none" stroke="#000" stroke-width="2.7" stroke-linejoin="miter" />
<polyline points="1736.7,1200.0 1700.0,1244.2 1774.2,1314.2" fill="none" stroke="#000" stroke-width="2.7" stroke-linejoin="miter" />
<polyline points="1746.7,1287.5 1790.0,1240.0 1846.7,1291.7 1848.3,1307.5 1791.7,1361.7 1783.3,1388.0 1863.0,1478.0" fill="none" stroke="#000" stroke-width="2.7" stroke-linejoin="miter" />
<polyline points="1776.7,1200.0 1794.2,1227.5" fill="none" stroke="#000" stroke-width="2.7" stroke-linejoin="miter" />
<polyline points="1801.7,1200.0 1810.0,1216.7" fill="none" stroke="#000" stroke-width="2.7" stroke-linejoin="miter" />
<rect x="1675.0" y="1124.8" width="12.5" height="11" fill="#e60012" stroke="#b00" stroke-width="0.5" transform="rotate(35 1681.3 1130.3)"/>
<rect x="1679.5" y="1162.0" width="12.5" height="11" fill="#e60012" stroke="#b00" stroke-width="0.5" transform="rotate(35 1685.8 1167.5)"/>
<rect x="1703.8" y="1178.2" width="12.5" height="11" fill="#e60012" stroke="#b00" stroke-width="0.5" transform="rotate(38 1710.0 1183.7)"/>
<rect x="1728.8" y="1185.3" width="12.5" height="11" fill="#e60012" stroke="#b00" stroke-width="0.5" transform="rotate(-38 1735.0 1190.8)"/>
<rect x="1743.0" y="1168.7" width="12.5" height="11" fill="#e60012" stroke="#b00" stroke-width="0.5" transform="rotate(-38 1749.2 1174.2)"/>
<rect x="1725.0" y="1087.0" width="12.5" height="11" fill="#e60012" stroke="#b00" stroke-width="0.5" transform="rotate(-29 1731.3 1092.5)"/>
<rect x="1750.8" y="1072.0" width="12.5" height="11" fill="#e60012" stroke="#b00" stroke-width="0.5" transform="rotate(-29 1757.0 1077.5)"/>
<rect x="1769.5" y="1071.5" width="12.5" height="11" fill="#e60012" stroke="#b00" stroke-width="0.5" transform="rotate(-32 1775.8 1077.0)"/>
<rect x="1782.0" y="1091.2" width="12.5" height="11" fill="#e60012" stroke="#b00" stroke-width="0.5" transform="rotate(-32 1788.3 1096.7)"/>
<rect x="1795.0" y="1112.0" width="12.5" height="11" fill="#e60012" stroke="#b00" stroke-width="0.5" transform="rotate(-32 1801.3 1117.5)"/>
<rect x="1777.0" y="1137.8" width="12.5" height="11" fill="#e60012" stroke="#b00" stroke-width="0.5" transform="rotate(-30 1783.3 1143.3)"/>
<rect x="1789.8" y="1248.7" width="12" height="11" fill="#e60012" stroke="#b00" stroke-width="0.5" transform="rotate(43 1795.8 1254.2)"/>
<rect x="1826.5" y="1308.7" width="12" height="11" fill="#e60012" stroke="#b00" stroke-width="0.5" transform="rotate(-43 1832.5 1314.2)"/>
<rect x="1658.3" y="1136.3" width="19.3" height="19.0" fill="#fff" stroke="#333" stroke-width="1.3"/>
<text transform="translate(1661.7 1150.8) scale(0.802 1)" font-size="14" >46</text>
<rect x="1665.0" y="1176.3" width="19.3" height="19.0" fill="#fff" stroke="#333" stroke-width="1.3"/>
<text transform="translate(1668.4 1190.8) scale(0.802 1)" font-size="14" >45</text>
<rect x="1699.7" y="1195.8" width="19.3" height="19.0" fill="#fff" stroke="#333" stroke-width="1.3"/>
<text transform="translate(1703.1 1210.3) scale(0.802 1)" font-size="14" >44</text>
<rect x="1731.5" y="1213.3" width="19.3" height="19.0" fill="#fff" stroke="#333" stroke-width="1.3"/>
<text transform="translate(1734.9 1227.8) scale(0.802 1)" font-size="14" >43</text>
<rect x="1748.3" y="1190.8" width="19.3" height="19.0" fill="#fff" stroke="#333" stroke-width="1.3"/>
<text transform="translate(1751.7 1205.3) scale(0.802 1)" font-size="14" >42</text>
<rect x="1790.0" y="1150.8" width="19.3" height="19.0" fill="#fff" stroke="#333" stroke-width="1.3"/>
<text transform="translate(1793.4 1165.3) scale(0.802 1)" font-size="14" >41</text>
<rect x="1812.0" y="1103.0" width="19.3" height="19.0" fill="#fff" stroke="#333" stroke-width="1.3"/>
<text transform="translate(1815.4 1117.5) scale(0.802 1)" font-size="14" >40</text>
<rect x="1798.3" y="1076.7" width="19.3" height="19.0" fill="#fff" stroke="#333" stroke-width="1.3"/>
<text transform="translate(1801.7 1091.2) scale(0.802 1)" font-size="14" >39</text>
<rect x="1782.8" y="1052.0" width="19.3" height="19.0" fill="#fff" stroke="#333" stroke-width="1.3"/>
<text transform="translate(1786.2 1066.5) scale(0.802 1)" font-size="14" >38</text>
<rect x="1736.3" y="1048.7" width="19.3" height="19.0" fill="#fff" stroke="#333" stroke-width="1.3"/>
<text transform="translate(1739.7 1063.2) scale(0.802 1)" font-size="14" >52</text>
<rect x="1710.0" y="1062.5" width="19.3" height="19.0" fill="#fff" stroke="#333" stroke-width="1.3"/>
<text transform="translate(1713.4 1077.0) scale(0.802 1)" font-size="14" >51</text>
<rect x="1756.7" y="1219.2" width="19.3" height="19.0" fill="#fff" stroke="#333" stroke-width="1.3"/>
<text transform="translate(1760.1 1233.7) scale(0.802 1)" font-size="14" >26</text>
<rect x="1840.3" y="1322.5" width="19.3" height="19.0" fill="#fff" stroke="#333" stroke-width="1.3"/>
<text transform="translate(1843.7 1337.0) scale(0.802 1)" font-size="14" >13</text>
<rect x="1821.3" y="1065.8" width="30.7" height="33.4" fill="#fff" stroke="#333" stroke-width="1.5"/>
<text transform="translate(1823.6 1090.1) scale(1.115 1)" font-size="21" >5a</text>
<rect x="1809.2" y="1216.7" width="30.0" height="33.3" fill="#fff" stroke="#333" stroke-width="1.5"/>
<text transform="translate(1811.2 1240.9) scale(1.115 1)" font-size="21" >5b</text>
<g transform="rotate(-30 1764.7 1105.0)" stroke="#000" stroke-width="1.2" fill="#fff"><rect x="1757.2" y="1097.5" width="15" height="15"/><line x1="1757.2" y1="1097.5" x2="1772.2" y2="1112.5"/><line x1="1757.2" y1="1112.5" x2="1772.2" y2="1097.5"/></g>
<text transform="translate(1765.0 1138.5) scale(0.951 1)" font-size="26" >EV</text>
<text transform="translate(1744.0 1139.0) rotate(50) scale(1.022 1)" font-size="19" >UP</text>
<circle cx="1686.2" cy="1123.3" r="2.9"/>
<circle cx="1726.2" cy="1116.7" r="2.9"/>
<circle cx="1767.5" cy="1084.2" r="2.9"/>
<circle cx="1785.3" cy="1110.8" r="2.9"/>
<circle cx="1744.2" cy="1146.7" r="2.9"/>
<circle cx="1690.5" cy="1160.3" r="2.9"/>
<circle cx="1722.0" cy="1168.3" r="2.9"/>
<circle cx="1694.2" cy="1203.7" r="2.9"/>
<line x1="1760.5" y1="1173.5" x2="1775.5" y2="1157.5" stroke="#000" stroke-width="1.1"/>
<line x1="1762.4" y1="1176.7" x2="1777.4" y2="1160.8" stroke="#000" stroke-width="1.1"/>
<line x1="1764.4" y1="1179.8" x2="1779.4" y2="1164.2" stroke="#000" stroke-width="1.1"/>
<line x1="1766.3" y1="1183.0" x2="1781.3" y2="1167.5" stroke="#000" stroke-width="1.1"/>
<line x1="1768.3" y1="1186.2" x2="1783.3" y2="1170.8" stroke="#000" stroke-width="1.1"/>
<line x1="1770.2" y1="1189.3" x2="1785.2" y2="1174.2" stroke="#000" stroke-width="1.1"/>
<line x1="1772.2" y1="1192.5" x2="1787.2" y2="1177.5" stroke="#000" stroke-width="1.1"/>
<line x1="1774.1" y1="1195.7" x2="1789.1" y2="1180.8" stroke="#000" stroke-width="1.1"/>
<line x1="1776.1" y1="1198.8" x2="1791.1" y2="1184.2" stroke="#000" stroke-width="1.1"/>
<line x1="1778.0" y1="1202.0" x2="1793.0" y2="1187.5" stroke="#000" stroke-width="1.1"/>
<line x1="1783.0" y1="1210.0" x2="1799.5" y2="1199.0" stroke="#000" stroke-width="1.1"/>
<line x1="1784.9" y1="1213.1" x2="1801.4" y2="1202.2" stroke="#000" stroke-width="1.1"/>
<line x1="1786.8" y1="1216.2" x2="1803.3" y2="1205.4" stroke="#000" stroke-width="1.1"/>
<line x1="1788.7" y1="1219.3" x2="1805.2" y2="1208.6" stroke="#000" stroke-width="1.1"/>
<line x1="1790.6" y1="1222.4" x2="1807.1" y2="1211.8" stroke="#000" stroke-width="1.1"/>
<line x1="1792.5" y1="1225.5" x2="1809.0" y2="1215.0" stroke="#000" stroke-width="1.1"/>
<line x1="1765.0" y1="1158.0" x2="1789.0" y2="1196.0" stroke="#000" stroke-width="1.3"/>
<line x1="1783.0" y1="1189.0" x2="1790.0" y2="1185.0" stroke="#000" stroke-width="1.3"/>
<line x1="1752.0" y1="1176.0" x2="1757.0" y2="1186.0" stroke="#000" stroke-width="1.3"/>
<line x1="1738.0" y1="1197.0" x2="1740.0" y2="1208.0" stroke="#000" stroke-width="1.3"/>
<line x1="1778.0" y1="1234.0" x2="1793.0" y2="1251.0" stroke="#000" stroke-width="1.3"/>
<polyline points="1698.3,1244.2 1681.7,1261.7 1757.5,1333.3 1770.8,1316.7" fill="none" stroke="#000" stroke-width="1.2" stroke-linejoin="miter" />
<text transform="translate(1688.0 1259.0) rotate(43.3) scale(0.958 1)" font-size="16" >キップうりば</text>
<polyline points="1780.6,1282.6 1797.4,1267.5 1825.0,1292.5 1809.0,1308.9" fill="none" stroke="#000" stroke-width="1.2" stroke-linejoin="miter" />
<line x1="1767.2" y1="1270.5" x2="1829.7" y2="1324.0" stroke="#000" stroke-width="1.1"/>
<line x1="1768.0" y1="1276.1" x2="1827.5" y2="1326.1" stroke="#000" stroke-width="1.1"/>
<line x1="1768.7" y1="1281.8" x2="1825.3" y2="1328.2" stroke="#000" stroke-width="1.1"/>
<line x1="1769.5" y1="1287.4" x2="1823.1" y2="1330.3" stroke="#000" stroke-width="1.1"/>
<line x1="1770.2" y1="1293.1" x2="1820.8" y2="1332.4" stroke="#000" stroke-width="1.1"/>
<line x1="1771.0" y1="1298.7" x2="1818.6" y2="1334.5" stroke="#000" stroke-width="1.1"/>
<line x1="1771.7" y1="1304.4" x2="1816.4" y2="1336.6" stroke="#000" stroke-width="1.1"/>
<line x1="1772.5" y1="1310.0" x2="1814.2" y2="1338.7" stroke="#000" stroke-width="1.1"/>
<line x1="1767.2" y1="1270.5" x2="1773.0" y2="1313.0" stroke="#000" stroke-width="1.2"/>
<line x1="1781.0" y1="1285.0" x2="1812.0" y2="1313.0" stroke="#000" stroke-width="1.3"/>
<line x1="1775.9" y1="1319.8" x2="1767.1" y2="1330.0" stroke="#000" stroke-width="2.6"/>
<line x1="1779.6" y1="1323.0" x2="1770.8" y2="1333.2" stroke="#000" stroke-width="2.6"/>
<line x1="1783.3" y1="1326.2" x2="1774.5" y2="1336.4" stroke="#000" stroke-width="2.6"/>
<line x1="1787.0" y1="1329.4" x2="1778.2" y2="1339.6" stroke="#000" stroke-width="2.6"/>
<line x1="1790.7" y1="1332.6" x2="1781.9" y2="1342.8" stroke="#000" stroke-width="2.6"/>
<line x1="1794.4" y1="1335.8" x2="1785.6" y2="1346.0" stroke="#000" stroke-width="2.6"/>
<line x1="1798.1" y1="1339.0" x2="1789.3" y2="1349.2" stroke="#000" stroke-width="2.6"/>
<line x1="1801.8" y1="1342.2" x2="1793.0" y2="1352.4" stroke="#000" stroke-width="2.6"/>
<line x1="1822.0" y1="1366.3" x2="1796.9" y2="1327.5" stroke="#000" stroke-width="1.2"/>
<text transform="translate(1826.7 1376.0) scale(1.010 1)" font-size="18.5" >DN</text>
<text transform="translate(1859.2 1307.5)" font-size="17.5" >上野公園方面改札</text>
<line x1="1669.5" y1="1231.2" x2="1677.1" y2="1224.8" stroke="#000" stroke-width="2.6"/>
<line x1="1660.4" y1="1258.2" x2="1668.0" y2="1251.8" stroke="#000" stroke-width="2.6"/>
<line x1="1633.2" y1="1279.7" x2="1638.4" y2="1284.3" stroke="#000" stroke-width="2.6"/>
<line x1="1653.0" y1="1298.8" x2="1659.0" y2="1304.2" stroke="#000" stroke-width="2.6"/>
<line x1="1675.0" y1="1315.0" x2="1681.0" y2="1320.4" stroke="#000" stroke-width="2.6"/>
<line x1="1697.5" y1="1338.1" x2="1705.7" y2="1345.5" stroke="#000" stroke-width="2.6"/>
<line x1="1717.0" y1="1357.0" x2="1725.4" y2="1364.0" stroke="#000" stroke-width="2.6"/>
<line x1="1742.6" y1="1379.0" x2="1750.0" y2="1385.6" stroke="#000" stroke-width="2.6"/>
<line x1="1772.8" y1="1411.7" x2="1781.2" y2="1420.3" stroke="#000" stroke-width="2.6"/>
<line x1="1795.2" y1="1436.8" x2="1800.8" y2="1442.6" stroke="#000" stroke-width="2.6"/>
<line x1="1814.1" y1="1459.7" x2="1818.9" y2="1464.7" stroke="#000" stroke-width="2.6"/>
<line x1="1832.1" y1="1479.0" x2="1836.9" y2="1484.0" stroke="#000" stroke-width="2.6"/>
<line x1="1662.1" y1="1376.7" x2="1667.9" y2="1369.9" stroke="#000" stroke-width="2.6"/>
<polyline points="1710.0,1446.4 1678.0,1413.6 1694.0,1395.6 1729.0,1430.0 1749.0,1420.4 1801.0,1481.0" fill="none" stroke="#000" stroke-width="2.7" stroke-linejoin="miter" />
<polyline points="1646.8,1352.3 1613.2,1325.1 1595.5,1345.8 1649.9,1390.6 1667.1,1369.5" fill="none" stroke="#000" stroke-width="2.7" stroke-linejoin="miter" />
<line x1="1616.2" y1="1328.5" x2="1598.5" y2="1348.0" stroke="#000" stroke-width="1.1"/>
<line x1="1619.1" y1="1330.9" x2="1601.6" y2="1350.4" stroke="#000" stroke-width="1.1"/>
<line x1="1622.0" y1="1333.4" x2="1604.7" y2="1352.8" stroke="#000" stroke-width="1.1"/>
<line x1="1624.8" y1="1335.8" x2="1607.9" y2="1355.2" stroke="#000" stroke-width="1.1"/>
<line x1="1627.7" y1="1338.3" x2="1611.0" y2="1357.6" stroke="#000" stroke-width="1.1"/>
<line x1="1630.6" y1="1340.7" x2="1614.1" y2="1359.9" stroke="#000" stroke-width="1.1"/>
<line x1="1633.5" y1="1343.2" x2="1617.2" y2="1362.3" stroke="#000" stroke-width="1.1"/>
<line x1="1636.3" y1="1345.6" x2="1620.4" y2="1364.7" stroke="#000" stroke-width="1.1"/>
<line x1="1639.2" y1="1348.1" x2="1623.5" y2="1367.1" stroke="#000" stroke-width="1.1"/>
<line x1="1642.1" y1="1350.5" x2="1626.6" y2="1369.5" stroke="#000" stroke-width="1.1"/>
<line x1="1609.8" y1="1338.0" x2="1643.0" y2="1366.5" stroke="#000" stroke-width="1.3"/>
<polygon points="1640.8,1326.8 1652.4,1337.2 1644.3,1347.9 1632.6,1337.6" fill="none" stroke="#000" stroke-width="1.2" stroke-linejoin="miter" />
<line x1="1660.0" y1="1336.9" x2="1651.0" y2="1346.9" stroke="#000" stroke-width="2.6"/>
<line x1="1664.0" y1="1340.5" x2="1655.0" y2="1350.5" stroke="#000" stroke-width="2.6"/>
<line x1="1668.1" y1="1344.1" x2="1659.1" y2="1354.2" stroke="#000" stroke-width="2.6"/>
<line x1="1672.1" y1="1347.7" x2="1663.1" y2="1357.8" stroke="#000" stroke-width="2.6"/>
<line x1="1676.2" y1="1351.4" x2="1667.2" y2="1361.4" stroke="#000" stroke-width="2.6"/>
<line x1="1680.2" y1="1355.0" x2="1671.2" y2="1365.0" stroke="#000" stroke-width="2.6"/>
<line x1="1618.4" y1="1399.3" x2="1639.5" y2="1371.2" stroke="#000" stroke-width="1.2"/>
<text transform="translate(1609.6 1418.0) scale(1.010 1)" font-size="18.5" >DN</text>
<rect x="1642.0" y="1427.6" width="26.0" height="27.4" fill="#fff" stroke="#333" stroke-width="1.5"/>
<text transform="translate(1646.9 1450.7) scale(1.114 1)" font-size="26" >7</text>
<rect x="1831.0" y="1494.0" width="26.0" height="27.6" fill="#fff" stroke="#333" stroke-width="1.5"/>
<text transform="translate(1835.9 1517.2) scale(1.114 1)" font-size="26" >6</text>
<text transform="translate(1811.0 1550.0) scale(0.986 1)" font-size="25" >京成線</text>
<rect x="1438.3" y="1301.3" width="26.2" height="27.5" fill="#fff" stroke="#333" stroke-width="1.5"/>
<text transform="translate(1443.3 1324.4) scale(1.114 1)" font-size="26" >8</text>
<text transform="translate(1468.0 1327.0) scale(1.038 1)" font-size="26" >JR線</text>
</g>
<g id="ginza">
<polyline points="32.5,889.5 266.3,953.8" fill="none" stroke="#000" stroke-width="1.2" stroke-linejoin="miter" />
<polyline points="32.5,889.5 103.8,896.3 138.8,930.0" fill="none" stroke="#000" stroke-width="1.2" stroke-linejoin="miter" />
<text transform="translate(142.0 906.0) rotate(15.4)" font-size="30" font-weight="500" >稲荷町駅</text>
<polyline points="1020.0,1373.0 1222.5,1565.5" fill="none" stroke="#000" stroke-width="1.2" stroke-linejoin="miter" />
<polyline points="1222.5,1565.5 1180.0,1507.0 1133.8,1494.5" fill="none" stroke="#000" stroke-width="1.2" stroke-linejoin="miter" />
<text transform="translate(1011.0 1421.0) rotate(41.5)" font-size="27.6" font-weight="500" >上野広小路駅</text>
<polyline points="315.0,923.0 388.8,943.8 391.3,936.3 412.5,922.0 423.8,894.5 500.0,925.0 582.5,961.3 577.5,978.8" fill="none" stroke="#000" stroke-width="2.7" stroke-linejoin="miter" />
<path d="M577.5,978.8 C589.6,985.2 625.4,1003.5 650.0,1017.5 C674.6,1031.5 704.2,1049.6 725.0,1062.5 C745.8,1075.4 760.4,1084.6 775.0,1095.0 C789.6,1105.4 799.8,1114.6 812.5,1125.0 C825.2,1135.4 844.8,1152.1 851.3,1157.5" fill="none" stroke="#000" stroke-width="2.7" />
<polyline points="851.3,1157.5 897.5,1107.0 946.3,1151.3" fill="none" stroke="#000" stroke-width="2.7" stroke-linejoin="miter" />
<polyline points="884.3,1174.1 892.0,1184.9 879.1,1196.1 879.5,1206.0 991.3,1320.5 973.8,1338.8 1016.3,1383.8" fill="none" stroke="#000" stroke-width="2.7" stroke-linejoin="miter" />
<path d="M389.0,944.5 C397.5,947.8 421.5,956.2 440.0,964.0 C458.5,971.8 477.5,980.9 500.0,991.3 C522.5,1001.7 550.0,1013.6 575.0,1026.3 C600.0,1039.0 625.0,1052.9 650.0,1067.5 C675.0,1082.1 704.2,1100.4 725.0,1113.8 C745.8,1127.2 754.2,1132.0 775.0,1148.0 C795.8,1164.0 827.1,1188.8 850.0,1210.0 C872.9,1231.2 892.1,1253.8 912.5,1275.0 C932.9,1296.2 962.5,1327.1 972.5,1337.5" fill="none" stroke="#000" stroke-width="1.3" />
<polyline points="298.8,965.5 370.0,987.5" fill="none" stroke="#000" stroke-width="2.7" stroke-linejoin="miter" />
<path d="M370.0,987.5 C380.0,990.9 408.3,999.9 430.0,1008.0 C451.7,1016.1 475.8,1026.4 500.0,1036.3 C524.2,1046.2 550.0,1055.8 575.0,1067.5 C600.0,1079.2 629.2,1094.6 650.0,1106.3 C670.8,1118.0 683.3,1126.0 700.0,1137.5 C716.7,1149.0 737.5,1165.1 750.0,1175.0 C762.5,1184.9 765.0,1188.3 775.0,1197.0 C785.0,1205.7 797.5,1216.2 810.0,1227.0 C822.5,1237.8 835.0,1248.2 850.0,1262.0 C865.0,1275.8 884.4,1293.9 900.0,1310.0 C915.6,1326.1 936.5,1350.7 943.8,1358.8" fill="none" stroke="#000" stroke-width="1.3" />
<polyline points="370.0,987.5 361.3,1048.0 428.8,1080.5 486.3,1080.5 500.0,1085.0" fill="none" stroke="#000" stroke-width="2.7" stroke-linejoin="miter" />
<path d="M486.3,1080.5 C494.8,1084.1 522.2,1095.4 537.0,1102.0 C551.8,1108.6 560.3,1112.0 575.0,1120.0 C589.7,1128.0 610.4,1140.4 625.0,1150.0 C639.6,1159.6 648.8,1167.5 662.5,1177.5 C676.2,1187.5 691.2,1196.9 707.5,1210.0 C723.8,1223.1 751.2,1248.6 760.0,1256.3" fill="none" stroke="#000" stroke-width="2.7" />
<polyline points="760.0,1256.3 772.5,1241.3" fill="none" stroke="#000" stroke-width="2.7" stroke-linejoin="miter" />
<polyline points="720.0,1192.5 772.5,1241.3 807.5,1270.0 875.0,1329.0 925.0,1380.5 943.8,1358.8 993.8,1410.0" fill="none" stroke="#000" stroke-width="2.7" stroke-linejoin="miter" />
<rect x="314.0" y="942.2" width="4.6" height="4.6" transform="rotate(20 316.3 944.5)"/>
<rect x="337.7" y="949.7" width="4.6" height="4.6" transform="rotate(20 340.0 952.0)"/>
<rect x="361.5" y="957.7" width="4.6" height="4.6" transform="rotate(20 363.8 960.0)"/>
<rect x="385.7" y="965.7" width="4.6" height="4.6" transform="rotate(20 388.0 968.0)"/>
<rect x="409.7" y="974.5" width="4.6" height="4.6" transform="rotate(20 412.0 976.8)"/>
<rect x="433.2" y="984.0" width="4.6" height="4.6" transform="rotate(20 435.5 986.3)"/>
<rect x="456.5" y="994.0" width="4.6" height="4.6" transform="rotate(20 458.8 996.3)"/>
<rect x="480.2" y="1003.5" width="4.6" height="4.6" transform="rotate(20 482.5 1005.8)"/>
<rect x="502.7" y="1014.0" width="4.6" height="4.6" transform="rotate(27 505.0 1016.3)"/>
<rect x="525.2" y="1025.2" width="4.6" height="4.6" transform="rotate(27 527.5 1027.5)"/>
<rect x="549.0" y="1035.2" width="4.6" height="4.6" transform="rotate(27 551.3 1037.5)"/>
<rect x="571.5" y="1046.5" width="4.6" height="4.6" transform="rotate(27 573.8 1048.8)"/>
<rect x="594.0" y="1058.2" width="4.6" height="4.6" transform="rotate(27 596.3 1060.5)"/>
<rect x="617.2" y="1069.7" width="4.6" height="4.6" transform="rotate(27 619.5 1072.0)"/>
<rect x="639.5" y="1082.7" width="4.6" height="4.6" transform="rotate(27 641.8 1085.0)"/>
<rect x="661.5" y="1095.2" width="4.6" height="4.6" transform="rotate(36 663.8 1097.5)"/>
<rect x="682.7" y="1109.0" width="4.6" height="4.6" transform="rotate(36 685.0 1111.3)"/>
<rect x="703.2" y="1123.2" width="4.6" height="4.6" transform="rotate(36 705.5 1125.5)"/>
<rect x="724.0" y="1137.7" width="4.6" height="4.6" transform="rotate(36 726.3 1140.0)"/>
<rect x="744.0" y="1152.7" width="4.6" height="4.6" transform="rotate(36 746.3 1155.0)"/>
<rect x="764.7" y="1168.2" width="4.6" height="4.6" transform="rotate(36 767.0 1170.5)"/>
<rect x="784.7" y="1184.7" width="4.6" height="4.6" transform="rotate(36 787.0 1187.0)"/>
<rect x="804.0" y="1201.0" width="4.6" height="4.6" transform="rotate(36 806.3 1203.3)"/>
<rect x="824.0" y="1217.2" width="4.6" height="4.6" transform="rotate(36 826.3 1219.5)"/>
<rect x="844.0" y="1234.0" width="4.6" height="4.6" transform="rotate(36 846.3 1236.3)"/>
<rect x="870.7" y="1259.5" width="3.6" height="3.6" transform="rotate(45 872.5 1261.3)"/>
<rect x="877.5" y="1266.4" width="3.6" height="3.6" transform="rotate(45 879.3 1268.2)"/>
<rect x="884.3" y="1273.2" width="3.6" height="3.6" transform="rotate(45 886.1 1275.0)"/>
<rect x="891.1" y="1280.1" width="3.6" height="3.6" transform="rotate(45 892.9 1281.9)"/>
<rect x="897.9" y="1287.0" width="3.6" height="3.6" transform="rotate(45 899.7 1288.8)"/>
<rect x="904.7" y="1293.9" width="3.6" height="3.6" transform="rotate(45 906.5 1295.7)"/>
<rect x="911.5" y="1300.8" width="3.6" height="3.6" transform="rotate(45 913.3 1302.5)"/>
<rect x="918.3" y="1307.6" width="3.6" height="3.6" transform="rotate(45 920.1 1309.4)"/>
<rect x="925.1" y="1314.5" width="3.6" height="3.6" transform="rotate(45 926.9 1316.3)"/>
<rect x="931.9" y="1321.4" width="3.6" height="3.6" transform="rotate(45 933.7 1323.2)"/>
<rect x="938.7" y="1328.2" width="3.6" height="3.6" transform="rotate(45 940.5 1330.0)"/>
<rect x="945.5" y="1335.1" width="3.6" height="3.6" transform="rotate(45 947.3 1336.9)"/>
<rect x="952.3" y="1342.0" width="3.6" height="3.6" transform="rotate(45 954.1 1343.8)"/>
<rect x="959.1" y="1348.9" width="3.6" height="3.6" transform="rotate(45 960.9 1350.7)"/>
<rect x="965.9" y="1355.8" width="3.6" height="3.6" transform="rotate(45 967.7 1357.5)"/>
<rect x="972.7" y="1362.6" width="3.6" height="3.6" transform="rotate(45 974.5 1364.4)"/>
<rect x="979.5" y="1369.5" width="3.6" height="3.6" transform="rotate(45 981.3 1371.3)"/>
<g transform="rotate(24 538.4 1033.5)"><rect x="531.6" y="1021.0" width="13.5" height="25" fill="#e60012" stroke="#a00" stroke-width="0.5"/><line x1="531.6" y1="1033.5" x2="545.1" y2="1033.5" stroke="#700" stroke-width="1"/></g>
<g transform="rotate(30 674.5 1104.5)"><rect x="667.8" y="1092.0" width="13.5" height="25" fill="#e60012" stroke="#a00" stroke-width="0.5"/><line x1="667.8" y1="1104.5" x2="681.2" y2="1104.5" stroke="#700" stroke-width="1"/></g>
<g transform="rotate(34 716.3 1132.5)"><rect x="709.5" y="1120.0" width="13.5" height="25" fill="#e60012" stroke="#a00" stroke-width="0.5"/><line x1="709.5" y1="1132.5" x2="723.0" y2="1132.5" stroke="#700" stroke-width="1"/></g>
<g transform="rotate(36 735.8 1147.8)"><rect x="729.0" y="1135.3" width="13.5" height="25" fill="#e60012" stroke="#a00" stroke-width="0.5"/><line x1="729.0" y1="1147.8" x2="742.5" y2="1147.8" stroke="#700" stroke-width="1"/></g>
<g transform="rotate(37 756.8 1163.5)"><rect x="750.0" y="1151.0" width="13.5" height="25" fill="#e60012" stroke="#a00" stroke-width="0.5"/><line x1="750.0" y1="1163.5" x2="763.5" y2="1163.5" stroke="#700" stroke-width="1"/></g>
<g transform="rotate(40 836.3 1228.8)"><rect x="829.5" y="1216.3" width="13.5" height="25" fill="#e60012" stroke="#a00" stroke-width="0.5"/><line x1="829.5" y1="1228.8" x2="843.0" y2="1228.8" stroke="#700" stroke-width="1"/></g>
<circle cx="543.0" cy="980.8" r="2.7"/>
<circle cx="569.5" cy="993.3" r="2.7"/>
<circle cx="597.0" cy="1007.5" r="2.7"/>
<circle cx="620.8" cy="1020.0" r="2.7"/>
<circle cx="648.8" cy="1035.5" r="2.7"/>
<circle cx="673.0" cy="1050.5" r="2.7"/>
<circle cx="696.8" cy="1066.8" r="2.7"/>
<circle cx="719.3" cy="1080.8" r="2.7"/>
<circle cx="745.0" cy="1098.0" r="2.7"/>
<circle cx="768.0" cy="1115.0" r="2.7"/>
<circle cx="790.5" cy="1132.5" r="2.7"/>
<circle cx="815.0" cy="1152.0" r="2.7"/>
<circle cx="837.5" cy="1168.8" r="2.7"/>
<circle cx="860.8" cy="1188.8" r="2.7"/>
<circle cx="901.8" cy="1246.3" r="2.7"/>
<circle cx="920.0" cy="1265.0" r="2.7"/>
<circle cx="938.3" cy="1283.8" r="2.7"/>
<circle cx="957.0" cy="1302.0" r="2.7"/>
<circle cx="975.0" cy="1320.5" r="2.7"/>
<circle cx="477.5" cy="1052.5" r="2.7"/>
<circle cx="504.5" cy="1064.8" r="2.7"/>
<circle cx="527.0" cy="1076.8" r="2.7"/>
<circle cx="551.3" cy="1089.3" r="2.7"/>
<circle cx="576.8" cy="1102.5" r="2.7"/>
<circle cx="598.8" cy="1115.8" r="2.7"/>
<circle cx="623.8" cy="1130.0" r="2.7"/>
<circle cx="645.5" cy="1144.5" r="2.7"/>
<circle cx="668.5" cy="1158.8" r="2.7"/>
<circle cx="692.0" cy="1174.5" r="2.7"/>
<polyline points="391.3,940.0 450.0,957.5 457.5,935.0" fill="none" stroke="#000" stroke-width="1.2" stroke-linejoin="miter" />
<polyline points="471.3,928.8 481.3,931.3 472.5,955.0 517.5,973.8 520.0,967.5 485.0,953.0 493.8,927.5" fill="none" stroke="#000" stroke-width="1.2" stroke-linejoin="miter" />
<g transform="rotate(18 462.5 931.3)" stroke="#000" stroke-width="1.2" fill="#fff"><rect x="455.5" y="924.3" width="14" height="14"/><line x1="455.5" y1="924.3" x2="469.5" y2="938.3"/><line x1="455.5" y1="938.3" x2="469.5" y2="924.3"/></g>
<text transform="translate(420.0 935.0) scale(0.980 1)" font-size="26" >EV</text>
<line x1="509.0" y1="934.0" x2="499.5" y2="958.0" stroke="#000" stroke-width="1.1"/>
<line x1="511.8" y1="935.2" x2="502.2" y2="959.2" stroke="#000" stroke-width="1.1"/>
<line x1="514.5" y1="936.4" x2="505.0" y2="960.4" stroke="#000" stroke-width="1.1"/>
<line x1="517.2" y1="937.6" x2="507.8" y2="961.6" stroke="#000" stroke-width="1.1"/>
<line x1="520.0" y1="938.8" x2="510.5" y2="962.8" stroke="#000" stroke-width="1.1"/>
<line x1="522.8" y1="939.9" x2="513.2" y2="963.9" stroke="#000" stroke-width="1.1"/>
<line x1="525.5" y1="941.1" x2="516.0" y2="965.1" stroke="#000" stroke-width="1.1"/>
<line x1="528.2" y1="942.3" x2="518.8" y2="966.3" stroke="#000" stroke-width="1.1"/>
<line x1="531.0" y1="943.5" x2="521.5" y2="967.5" stroke="#000" stroke-width="1.1"/>
<line x1="503.0" y1="945.0" x2="534.0" y2="957.5" stroke="#000" stroke-width="1.3"/>
<text transform="translate(532.5 963.0) rotate(22) scale(1.022 1)" font-size="19" >UP</text>
<g transform="rotate(18 367.0 1020.0)" stroke="#000" stroke-width="1.2" fill="#fff"><rect x="360.2" y="1013.2" width="13.5" height="13.5"/><line x1="360.2" y1="1013.2" x2="373.8" y2="1026.8"/><line x1="360.2" y1="1026.8" x2="373.8" y2="1013.2"/></g>
<text transform="translate(317.5 1031.0) scale(0.980 1)" font-size="26" >EV</text>
<polyline points="359.0,1023.5 369.5,1028.0" fill="none" stroke="#000" stroke-width="2.4" stroke-linejoin="miter" />
<polyline points="375.0,1015.0 447.5,1045.0 445.0,1052.5 412.5,1038.8 401.3,1066.3 428.8,1080.0" fill="none" stroke="#000" stroke-width="1.2" stroke-linejoin="miter" />
<line x1="418.0" y1="1042.0" x2="408.0" y2="1068.0" stroke="#000" stroke-width="1.1"/>
<line x1="420.8" y1="1043.1" x2="410.8" y2="1069.2" stroke="#000" stroke-width="1.1"/>
<line x1="423.5" y1="1044.2" x2="413.5" y2="1070.4" stroke="#000" stroke-width="1.1"/>
<line x1="426.2" y1="1045.4" x2="416.2" y2="1071.6" stroke="#000" stroke-width="1.1"/>
<line x1="429.0" y1="1046.5" x2="419.0" y2="1072.8" stroke="#000" stroke-width="1.1"/>
<line x1="431.8" y1="1047.6" x2="421.8" y2="1073.9" stroke="#000" stroke-width="1.1"/>
<line x1="434.5" y1="1048.8" x2="424.5" y2="1075.1" stroke="#000" stroke-width="1.1"/>
<line x1="437.2" y1="1049.9" x2="427.2" y2="1076.3" stroke="#000" stroke-width="1.1"/>
<line x1="440.0" y1="1051.0" x2="430.0" y2="1077.5" stroke="#000" stroke-width="1.1"/>
<line x1="412.0" y1="1054.0" x2="443.0" y2="1067.0" stroke="#000" stroke-width="1.3"/>
<text transform="translate(445.8 1063.8) rotate(22) scale(1.022 1)" font-size="19" >UP</text>
<line x1="859.7" y1="1150.4" x2="884.3" y2="1174.1" stroke="#000" stroke-width="1.1"/>
<line x1="861.6" y1="1148.3" x2="886.4" y2="1172.1" stroke="#000" stroke-width="1.1"/>
<line x1="863.5" y1="1146.2" x2="888.5" y2="1170.1" stroke="#000" stroke-width="1.1"/>
<line x1="865.4" y1="1144.1" x2="890.6" y2="1168.1" stroke="#000" stroke-width="1.1"/>
<line x1="867.3" y1="1142.0" x2="892.7" y2="1166.1" stroke="#000" stroke-width="1.1"/>
<line x1="869.3" y1="1139.8" x2="894.8" y2="1164.0" stroke="#000" stroke-width="1.1"/>
<line x1="871.2" y1="1137.7" x2="896.9" y2="1162.0" stroke="#000" stroke-width="1.1"/>
<line x1="873.1" y1="1135.6" x2="899.0" y2="1160.0" stroke="#000" stroke-width="1.1"/>
<line x1="875.0" y1="1133.5" x2="901.1" y2="1158.0" stroke="#000" stroke-width="1.1"/>
<line x1="876.9" y1="1131.4" x2="903.2" y2="1156.0" stroke="#000" stroke-width="1.1"/>
<polyline points="903.2,1156.0 884.3,1174.1" fill="none" stroke="#000" stroke-width="2.6" stroke-linejoin="miter" />
<line x1="868.3" y1="1166.8" x2="893.3" y2="1140.9" stroke="#000" stroke-width="1.3"/>
<text transform="translate(848.0 1168.0) rotate(50) scale(1.022 1)" font-size="19" >UP</text>
<line x1="706.0" y1="1208.0" x2="720.0" y2="1192.0" stroke="#000" stroke-width="1.1"/>
<line x1="709.7" y1="1211.2" x2="723.7" y2="1195.2" stroke="#000" stroke-width="1.1"/>
<line x1="713.3" y1="1214.3" x2="727.3" y2="1198.3" stroke="#000" stroke-width="1.1"/>
<line x1="717.0" y1="1217.5" x2="731.0" y2="1201.5" stroke="#000" stroke-width="1.1"/>
<line x1="720.7" y1="1220.7" x2="734.7" y2="1204.7" stroke="#000" stroke-width="1.1"/>
<line x1="724.3" y1="1223.8" x2="738.3" y2="1207.8" stroke="#000" stroke-width="1.1"/>
<line x1="728.0" y1="1227.0" x2="742.0" y2="1211.0" stroke="#000" stroke-width="1.1"/>
<line x1="731.7" y1="1230.2" x2="745.7" y2="1214.2" stroke="#000" stroke-width="1.1"/>
<line x1="735.3" y1="1233.3" x2="749.3" y2="1217.3" stroke="#000" stroke-width="1.1"/>
<line x1="739.0" y1="1236.5" x2="753.0" y2="1220.5" stroke="#000" stroke-width="1.1"/>
<line x1="742.7" y1="1239.7" x2="756.7" y2="1223.7" stroke="#000" stroke-width="1.1"/>
<line x1="746.3" y1="1242.8" x2="760.3" y2="1226.8" stroke="#000" stroke-width="1.1"/>
<line x1="750.0" y1="1246.0" x2="764.0" y2="1230.0" stroke="#000" stroke-width="1.1"/>
<line x1="722.0" y1="1203.0" x2="752.0" y2="1229.0" stroke="#000" stroke-width="1.3"/>
<text transform="translate(687.0 1187.0) rotate(40) scale(1.022 1)" font-size="19" >UP</text>
<line x1="756.3" y1="1172.5" x2="782.5" y2="1251.3" stroke="#000" stroke-width="1.1"/>
<rect x="543.8" y="990.5" width="19.0" height="18.8" fill="#fff" stroke="#333" stroke-width="1.3"/>
<text transform="translate(550.3 1004.9) scale(0.770 1)" font-size="14" >7</text>
<rect x="672.5" y="1058.3" width="19.0" height="18.8" fill="#fff" stroke="#333" stroke-width="1.3"/>
<text transform="translate(679.0 1072.7) scale(0.770 1)" font-size="14" >8</text>
<rect x="720.8" y="1090.0" width="19.0" height="18.8" fill="#fff" stroke="#333" stroke-width="1.3"/>
<text transform="translate(727.3 1104.4) scale(0.770 1)" font-size="14" >9</text>
<rect x="744.5" y="1107.5" width="19.0" height="18.8" fill="#fff" stroke="#333" stroke-width="1.3"/>
<text transform="translate(747.8 1121.9) scale(0.802 1)" font-size="14" >10</text>
<rect x="766.3" y="1123.8" width="19.0" height="18.8" fill="#fff" stroke="#333" stroke-width="1.3"/>
<text transform="translate(769.5 1138.2) scale(0.859 1)" font-size="14" >11</text>
<rect x="513.3" y="1053.8" width="19.0" height="18.8" fill="#fff" stroke="#333" stroke-width="1.3"/>
<text transform="translate(519.8 1068.2) scale(0.770 1)" font-size="14" >6</text>
<rect x="643.8" y="1121.3" width="19.0" height="18.8" fill="#fff" stroke="#333" stroke-width="1.3"/>
<text transform="translate(650.3 1135.7) scale(0.770 1)" font-size="14" >5</text>
<rect x="681.8" y="1150.3" width="19.0" height="18.8" fill="#fff" stroke="#333" stroke-width="1.3"/>
<text transform="translate(688.3 1164.7) scale(0.770 1)" font-size="14" >4</text>
<rect x="705.0" y="1164.8" width="19.0" height="18.8" fill="#fff" stroke="#333" stroke-width="1.3"/>
<text transform="translate(711.5 1179.2) scale(0.770 1)" font-size="14" >3</text>
<rect x="855.0" y="1196.0" width="19.0" height="18.8" fill="#fff" stroke="#333" stroke-width="1.3"/>
<text transform="translate(858.2 1210.4) scale(0.802 1)" font-size="14" >12</text>
<rect x="805.5" y="1246.3" width="19.0" height="18.8" fill="#fff" stroke="#333" stroke-width="1.3"/>
<text transform="translate(812.0 1260.7) scale(0.770 1)" font-size="14" >1</text>
<rect x="773.0" y="1255.0" width="19.0" height="18.8" fill="#fff" stroke="#333" stroke-width="1.3"/>
<text transform="translate(779.5 1269.4) scale(0.770 1)" font-size="14" >2</text>
<rect x="745.8" y="965.5" width="108.5" height="36.5" fill="#fff" stroke="#222" stroke-width="1.5"/>
<text transform="translate(755.0 995.0)" font-size="30" >銀座線</text>
<text transform="translate(765.0 1032.0) scale(1.233 1)" font-size="24" >(B2F)</text>
</g>
<g id="titlebox">
<text transform="translate(2099.0 1434.5) scale(1.175 1)" font-size="21" font-weight="500" >2023年5月22日更新</text>
<rect x="2010.8" y="1444.2" width="309.2" height="188.3" fill="#fff" stroke="#333" stroke-width="1.6"/>
<rect x="2011.6" y="1445" width="307.6" height="45.8" fill="#f39800"/>
<line x1="2010.8" y1="1490.8" x2="2320.0" y2="1490.8" stroke="#333" stroke-width="1.6"/>
<line x1="2010.8" y1="1585.3" x2="2320.0" y2="1585.3" stroke="#333" stroke-width="1.6"/>
<text x="2109" y="1481.5" font-size="38" font-weight="bold" textLength="113.5" lengthAdjust="spacingAndGlyphs" stroke="#fff" stroke-width="3.5" stroke-linejoin="round" paint-order="stroke">銀座線</text>
<text transform="translate(2032.0 1560.0)" font-size="60" font-weight="500" stroke="#000" stroke-width="1">上</text>
<text transform="translate(2136.0 1560.0)" font-size="60" font-weight="500" stroke="#000" stroke-width="1">野</text>
<text transform="translate(2239.5 1560.0)" font-size="60" font-weight="500" stroke="#000" stroke-width="1">駅</text>
<text transform="translate(2059.0 1624.0) scale(1.230 1)" font-size="37" stroke="#000" stroke-width="0.5">G16</text>
<text transform="translate(2160.0 1624.0)" font-size="37" font-weight="500" >駅でん</text>
</g>
</svg>
</body></html>
